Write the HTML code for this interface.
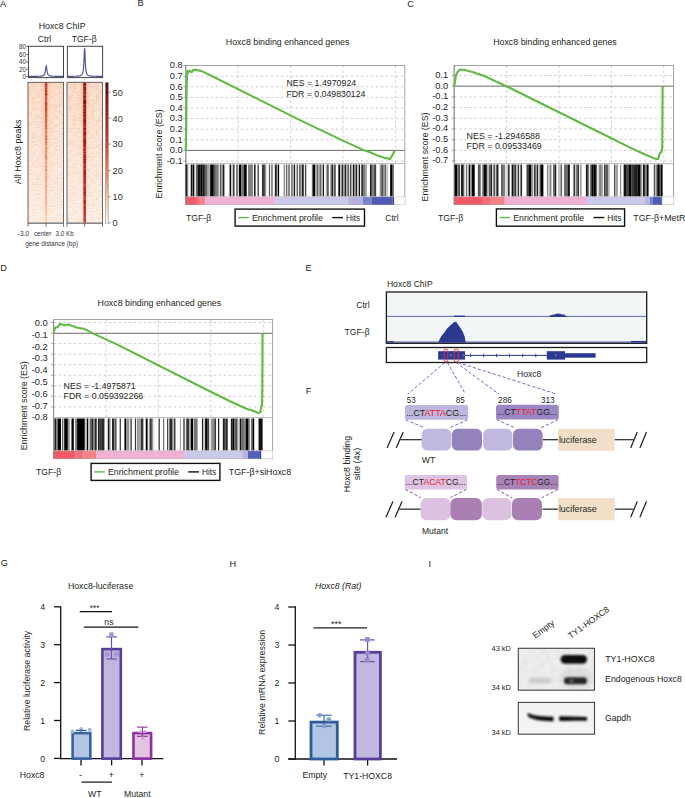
<!DOCTYPE html>
<html><head><meta charset="utf-8"><style>
html,body{margin:0;padding:0;background:#fff;}
body{width:685px;height:798px;overflow:hidden;}
svg{display:block;}
text{font-family:"Liberation Sans",sans-serif;}
</style></head><body>
<svg width="685" height="798" viewBox="0 0 685 798" font-family="Liberation Sans, sans-serif">
<rect width="685" height="798" fill="#fff"/>
<text x="0.00" y="6.80" font-size="9.2" text-anchor="start" fill="#231f20" >A</text>
<text x="137.40" y="6.30" font-size="9.2" text-anchor="start" fill="#231f20" >B</text>
<text x="407.30" y="6.60" font-size="9.2" text-anchor="start" fill="#231f20" >C</text>
<text x="0.30" y="270.50" font-size="9.2" text-anchor="start" fill="#231f20" >D</text>
<text x="305.60" y="270.90" font-size="9.2" text-anchor="start" fill="#231f20" >E</text>
<text x="305.80" y="393.90" font-size="9.2" text-anchor="start" fill="#231f20" >F</text>
<text x="0.80" y="566.10" font-size="9.2" text-anchor="start" fill="#231f20" >G</text>
<text x="229.60" y="566.50" font-size="9.2" text-anchor="start" fill="#231f20" >H</text>
<text x="428.60" y="566.50" font-size="9.2" text-anchor="start" fill="#231f20" >I</text>
<text x="38.70" y="28.80" font-size="8.7" text-anchor="start" fill="#231f20" textLength="47.00" lengthAdjust="spacingAndGlyphs" >Hoxc8 ChIP</text>
<text x="37.80" y="41.90" font-size="8.6" text-anchor="start" fill="#231f20" >Ctrl</text>
<text x="71.70" y="41.60" font-size="8.6" text-anchor="start" fill="#231f20" >TGF-β</text>
<rect x="28.50" y="46.30" width="35.00" height="31.30" fill="#fff" stroke="#444" stroke-width="1.0" />
<rect x="67.40" y="46.30" width="35.20" height="31.30" fill="#fff" stroke="#444" stroke-width="1.0" />
<text x="25.90" y="48.60" font-size="6.3" text-anchor="end" fill="#333" >80</text>
<line x1="26.30" y1="46.30" x2="28.50" y2="46.30" stroke="#444" stroke-width="0.8" />
<text x="25.90" y="56.70" font-size="6.3" text-anchor="end" fill="#333" >60</text>
<line x1="26.30" y1="54.40" x2="28.50" y2="54.40" stroke="#444" stroke-width="0.8" />
<text x="25.90" y="64.20" font-size="6.3" text-anchor="end" fill="#333" >40</text>
<line x1="26.30" y1="61.90" x2="28.50" y2="61.90" stroke="#444" stroke-width="0.8" />
<text x="25.90" y="71.60" font-size="6.3" text-anchor="end" fill="#333" >20</text>
<line x1="26.30" y1="69.30" x2="28.50" y2="69.30" stroke="#444" stroke-width="0.8" />
<text x="25.90" y="79.00" font-size="6.3" text-anchor="end" fill="#333" >0</text>
<line x1="26.30" y1="76.70" x2="28.50" y2="76.70" stroke="#444" stroke-width="0.8" />
<polyline points="29.00,76.37 29.28,76.37 29.57,76.37 29.85,76.37 30.13,76.37 30.42,76.37 30.70,76.37 30.98,76.37 31.27,76.37 31.55,76.36 31.83,76.36 32.12,76.36 32.40,76.36 32.68,76.36 32.97,76.36 33.25,76.35 33.53,76.35 33.82,76.35 34.10,76.35 34.38,76.35 34.67,76.34 34.95,76.34 35.23,76.34 35.52,76.33 35.80,76.33 36.08,76.33 36.37,76.32 36.65,76.32 36.93,76.31 37.22,76.31 37.50,76.30 37.78,76.29 38.07,76.29 38.35,76.28 38.63,76.27 38.92,76.26 39.20,76.25 39.48,76.23 39.77,76.22 40.05,76.20 40.33,76.18 40.62,76.16 40.90,76.14 41.18,76.11 41.47,76.07 41.75,76.03 42.03,75.98 42.32,75.92 42.60,75.85 42.88,75.75 43.17,75.64 43.45,75.48 43.73,75.29 44.02,75.02 44.30,74.65 44.58,74.13 44.87,73.37 45.15,72.24 45.43,70.61 45.72,68.47 46.00,66.45 46.28,66.00 46.57,67.55 46.85,69.77 47.13,71.64 47.42,72.96 47.70,73.85 47.98,74.46 48.27,74.88 48.55,75.19 48.83,75.41 49.12,75.58 49.40,75.71 49.68,75.81 49.97,75.89 50.25,75.96 50.53,76.01 50.82,76.06 51.10,76.09 51.38,76.13 51.67,76.15 51.95,76.18 52.23,76.20 52.52,76.21 52.80,76.23 53.08,76.24 53.37,76.25 53.65,76.27 53.93,76.27 54.22,76.28 54.50,76.29 54.78,76.30 55.07,76.30 55.35,76.31 55.63,76.32 55.92,76.32 56.20,76.32 56.48,76.33 56.77,76.33 57.05,76.34 57.33,76.34 57.62,76.34 57.90,76.34 58.18,76.35 58.47,76.35 58.75,76.35 59.03,76.35 59.32,76.36 59.60,76.36 59.88,76.36 60.17,76.36 60.45,76.36 60.73,76.36 61.02,76.37 61.30,76.37 61.58,76.37 61.87,76.37 62.15,76.37 62.43,76.37 62.72,76.37 63.00,76.37" fill="none" stroke="#4a5290" stroke-width="1.15"/>
<polyline points="68.10,76.35 68.38,76.35 68.67,76.35 68.95,76.34 69.23,76.34 69.52,76.34 69.80,76.34 70.08,76.33 70.37,76.33 70.65,76.33 70.93,76.33 71.22,76.32 71.50,76.32 71.78,76.32 72.07,76.31 72.35,76.31 72.63,76.30 72.92,76.30 73.20,76.29 73.48,76.29 73.77,76.28 74.05,76.28 74.33,76.27 74.62,76.26 74.90,76.25 75.18,76.24 75.47,76.23 75.75,76.22 76.03,76.21 76.32,76.20 76.60,76.18 76.88,76.17 77.17,76.15 77.45,76.13 77.73,76.11 78.02,76.08 78.30,76.05 78.58,76.02 78.87,75.98 79.15,75.94 79.43,75.89 79.72,75.83 80.00,75.75 80.28,75.67 80.57,75.57 80.85,75.44 81.13,75.28 81.42,75.09 81.70,74.83 81.98,74.50 82.27,74.05 82.55,73.42 82.83,72.53 83.12,71.21 83.40,69.16 83.68,65.90 83.97,60.73 84.25,53.60 84.53,48.16 84.82,50.39 85.10,57.53 85.38,63.75 85.67,67.82 85.95,70.36 86.23,71.98 86.52,73.05 86.80,73.78 87.08,74.30 87.37,74.69 87.65,74.97 87.93,75.20 88.22,75.37 88.50,75.51 88.78,75.62 89.07,75.72 89.35,75.79 89.63,75.86 89.92,75.91 90.20,75.96 90.48,76.00 90.77,76.04 91.05,76.07 91.33,76.10 91.62,76.12 91.90,76.14 92.18,76.16 92.47,76.18 92.75,76.19 93.03,76.20 93.32,76.22 93.60,76.23 93.88,76.24 94.17,76.25 94.45,76.26 94.73,76.26 95.02,76.27 95.30,76.28 95.58,76.28 95.87,76.29 96.15,76.30 96.43,76.30 96.72,76.31 97.00,76.31 97.28,76.31 97.57,76.32 97.85,76.32 98.13,76.32 98.42,76.33 98.70,76.33 98.98,76.33 99.27,76.34 99.55,76.34 99.83,76.34 100.12,76.34 100.40,76.34 100.68,76.35 100.97,76.35 101.25,76.35 101.53,76.35 101.82,76.35 102.10,76.35" fill="none" stroke="#4a5290" stroke-width="1.15"/>
<line x1="46.20" y1="78.40" x2="46.20" y2="79.60" stroke="#555" stroke-width="0.6" />
<line x1="84.80" y1="78.40" x2="84.80" y2="79.60" stroke="#555" stroke-width="0.6" />
<defs><linearGradient id="cbar" x1="0" y1="0" x2="0" y2="1"><stop offset="0" stop-color="#5e0a0a"/><stop offset="0.2" stop-color="#9c1c14"/><stop offset="0.45" stop-color="#d2452c"/><stop offset="0.65" stop-color="#eb8a5c"/><stop offset="0.82" stop-color="#f6c49a"/><stop offset="1" stop-color="#fff5ea"/></linearGradient><linearGradient id="hmC" x1="0" y1="0" x2="1" y2="0"><stop offset="0" stop-color="#fbe2cc" stop-opacity="0"/><stop offset="0.3" stop-color="#d8644a"/><stop offset="0.5" stop-color="#b8281e"/><stop offset="0.7" stop-color="#d8644a"/><stop offset="1" stop-color="#fbe2cc" stop-opacity="0"/></linearGradient><linearGradient id="hmT" x1="0" y1="0" x2="1" y2="0"><stop offset="0" stop-color="#f6c0a0" stop-opacity="0"/><stop offset="0.25" stop-color="#c0382a"/><stop offset="0.5" stop-color="#8a1410"/><stop offset="0.75" stop-color="#c0382a"/><stop offset="1" stop-color="#f6c0a0" stop-opacity="0"/></linearGradient><linearGradient id="fadeC" x1="0" y1="0" x2="0" y2="1"><stop offset="0" stop-color="#fff" stop-opacity="1"/><stop offset="0.5" stop-color="#fff" stop-opacity="0.75"/><stop offset="1" stop-color="#fff" stop-opacity="0.45"/></linearGradient></defs>
<defs><filter id="spk" x="0" y="0" width="100%" height="100%"><feTurbulence type="fractalNoise" baseFrequency="0.22 0.7" numOctaves="2" seed="4" result="t"/><feColorMatrix in="t" type="matrix" values="0 0 0 0 0.94  0 0 0 0 0.62  0 0 0 0 0.47  0 0 0 -4.6 2.6" result="c"/><feComposite in="c" in2="SourceGraphic" operator="in"/></filter></defs>
<defs><linearGradient id="hmbg" x1="0" y1="0" x2="0" y2="1"><stop offset="0" stop-color="#fbe0cc"/><stop offset="0.35" stop-color="#fce8da"/><stop offset="1" stop-color="#fdf1e8"/></linearGradient><linearGradient id="halo" x1="0" y1="0" x2="1" y2="0"><stop offset="0" stop-color="#f3b090" stop-opacity="0"/><stop offset="0.5" stop-color="#eea080" stop-opacity="0.9"/><stop offset="1" stop-color="#f3b090" stop-opacity="0"/></linearGradient><linearGradient id="halofade" x1="0" y1="0" x2="0" y2="1"><stop offset="0" stop-color="#fff" stop-opacity="1"/><stop offset="0.5" stop-color="#fff" stop-opacity="0.35"/><stop offset="1" stop-color="#fff" stop-opacity="0"/></linearGradient><linearGradient id="spkfade" x1="0" y1="0" x2="0" y2="1"><stop offset="0" stop-color="#fff" stop-opacity="0.95"/><stop offset="0.5" stop-color="#fff" stop-opacity="0.6"/><stop offset="1" stop-color="#fff" stop-opacity="0.35"/></linearGradient><mask id="spkm"><rect x="0" y="82" width="110" height="142" fill="url(#spkfade)"/></mask><mask id="hfm"><rect x="0" y="82" width="110" height="142" fill="url(#halofade)"/></mask></defs>
<rect x="28.00" y="82.30" width="35.50" height="141.00" fill="url(#hmbg)" stroke="none" stroke-width="1" />
<g mask="url(#spkm)"><rect x="28.0" y="82.3" width="35.50" height="141.00" fill="#fff" filter="url(#spk)"/></g>
<rect x="40.1" y="82.3" width="12" height="141.00" fill="url(#halo)" mask="url(#hfm)" opacity="0.5"/>
<rect x="44.90" y="82.30" width="2.40" height="1.30" fill="#b1271d"/>
<rect x="44.90" y="83.60" width="2.39" height="2.00" fill="#b93025"/>
<rect x="44.91" y="85.60" width="2.38" height="2.00" fill="#c2392e"/>
<rect x="44.92" y="87.60" width="2.37" height="2.00" fill="#c43a2e"/>
<rect x="44.92" y="89.60" width="2.36" height="1.30" fill="#bc3327"/>
<rect x="44.93" y="90.90" width="2.35" height="1.30" fill="#c73e31"/>
<rect x="44.93" y="92.20" width="2.34" height="1.00" fill="#bb3225"/>
<rect x="44.93" y="93.20" width="2.34" height="2.00" fill="#b32a1c"/>
<rect x="44.94" y="95.20" width="2.32" height="1.30" fill="#d04839"/>
<rect x="44.94" y="96.50" width="2.32" height="1.00" fill="#c23a2b"/>
<rect x="44.94" y="97.50" width="2.31" height="2.00" fill="#c94132"/>
<rect x="44.95" y="99.50" width="2.30" height="1.00" fill="#d64f3e"/>
<rect x="44.95" y="100.50" width="2.30" height="2.00" fill="#cf4837"/>
<rect x="44.95" y="102.50" width="2.29" height="1.60" fill="#bb3624"/>
<rect x="44.96" y="104.10" width="2.29" height="1.00" fill="#bf3b29"/>
<rect x="44.96" y="105.10" width="2.29" height="1.00" fill="#ca4835"/>
<rect x="44.96" y="106.10" width="2.28" height="1.60" fill="#c94734"/>
<rect x="44.96" y="107.70" width="2.28" height="1.30" fill="#c3432f"/>
<rect x="44.96" y="109.00" width="2.28" height="1.00" fill="#cd4e3a"/>
<rect x="44.96" y="110.00" width="2.27" height="1.30" fill="#c2432e"/>
<rect x="44.97" y="111.30" width="2.27" height="1.30" fill="#c74a34"/>
<rect x="44.97" y="112.60" width="2.27" height="1.00" fill="#c54933"/>
<rect x="44.97" y="113.60" width="2.26" height="2.00" fill="#d45942"/>
<rect x="44.97" y="115.60" width="2.26" height="2.00" fill="#ca5039"/>
<rect x="44.97" y="117.60" width="2.25" height="1.30" fill="#e16a51"/>
<rect x="44.97" y="118.90" width="2.25" height="2.00" fill="#cf5940"/>
<rect x="44.98" y="120.90" width="2.25" height="2.00" fill="#d76349"/>
<rect x="44.98" y="122.90" width="2.24" height="1.60" fill="#e8765b"/>
<rect x="44.98" y="124.50" width="2.24" height="2.00" fill="#d26145"/>
<rect x="44.98" y="126.50" width="2.23" height="1.00" fill="#d06144"/>
<rect x="44.99" y="127.50" width="2.23" height="2.00" fill="#cc5d41"/>
<rect x="44.99" y="129.50" width="2.22" height="1.00" fill="#df7254"/>
<rect x="44.99" y="130.50" width="2.22" height="1.30" fill="#e07456"/>
<rect x="44.99" y="131.80" width="2.22" height="1.60" fill="#e07657"/>
<rect x="44.99" y="133.40" width="2.21" height="1.00" fill="#d66d4d"/>
<rect x="44.99" y="134.40" width="2.21" height="1.30" fill="#e47d5d"/>
<rect x="45.00" y="135.70" width="2.21" height="1.60" fill="#dc7655"/>
<rect x="45.00" y="137.30" width="2.20" height="1.60" fill="#da7554"/>
<rect x="45.00" y="138.90" width="2.20" height="1.30" fill="#d67250"/>
<rect x="45.00" y="140.20" width="2.19" height="1.30" fill="#ed8a68"/>
<rect x="45.01" y="141.50" width="2.19" height="1.60" fill="#d97755"/>
<rect x="45.01" y="143.10" width="2.18" height="1.00" fill="#ea8967"/>
<rect x="45.01" y="144.10" width="2.17" height="1.30" fill="#e28260"/>
<rect x="45.02" y="145.40" width="2.17" height="1.30" fill="#f49573"/>
<rect x="45.02" y="146.70" width="2.16" height="1.00" fill="#f29372"/>
<rect x="45.02" y="147.70" width="2.16" height="2.00" fill="#e68867"/>
<rect x="45.03" y="149.70" width="2.15" height="1.30" fill="#f59876"/>
<rect x="45.03" y="151.00" width="2.14" height="1.30" fill="#dc805f"/>
<rect x="45.03" y="152.30" width="2.14" height="1.00" fill="#e58a69"/>
<rect x="45.03" y="153.30" width="2.13" height="2.00" fill="#f09675"/>
<rect x="45.04" y="155.30" width="2.12" height="2.00" fill="#da8160"/>
<rect x="45.04" y="157.30" width="2.11" height="1.60" fill="#da8362"/>
<rect x="45.05" y="158.90" width="2.10" height="1.60" fill="#ee9877"/>
<rect x="45.05" y="160.50" width="2.10" height="1.00" fill="#e79271"/>
<rect x="45.05" y="161.50" width="2.09" height="1.30" fill="#e79271"/>
<rect x="45.06" y="162.80" width="2.09" height="1.60" fill="#ef9b7a"/>
<rect x="45.06" y="164.40" width="2.08" height="1.30" fill="#faa786"/>
<rect x="45.06" y="165.70" width="2.07" height="2.00" fill="#dd8b6a"/>
<rect x="45.07" y="167.70" width="2.06" height="1.30" fill="#faaa89"/>
<rect x="45.07" y="169.00" width="2.06" height="2.00" fill="#dd8d6c"/>
<rect x="45.08" y="171.00" width="2.05" height="1.30" fill="#f9ab8a"/>
<rect x="45.08" y="172.30" width="2.04" height="1.60" fill="#f6a988"/>
<rect x="45.08" y="173.90" width="2.03" height="1.60" fill="#f1a484"/>
<rect x="45.09" y="175.50" width="2.03" height="2.00" fill="#eda282"/>
<rect x="45.09" y="177.50" width="2.02" height="2.00" fill="#e89e7e"/>
<rect x="45.10" y="179.50" width="2.01" height="1.60" fill="#e49b7a"/>
<rect x="45.10" y="181.10" width="2.00" height="1.00" fill="#eca484"/>
<rect x="45.10" y="182.10" width="2.00" height="1.30" fill="#feb797"/>
<rect x="45.10" y="183.40" width="1.99" height="1.00" fill="#e8a282"/>
<rect x="45.10" y="184.40" width="1.99" height="1.60" fill="#f5ae8f"/>
<rect x="45.11" y="186.00" width="1.99" height="2.00" fill="#e8a384"/>
<rect x="45.11" y="188.00" width="1.98" height="2.00" fill="#f9b496"/>
<rect x="45.11" y="190.00" width="1.98" height="1.30" fill="#e5a283"/>
<rect x="45.11" y="191.30" width="1.98" height="1.00" fill="#eeab8d"/>
<rect x="45.11" y="192.30" width="1.97" height="1.30" fill="#e2a082"/>
<rect x="45.11" y="193.60" width="1.97" height="2.00" fill="#fab99b"/>
<rect x="45.12" y="195.60" width="1.97" height="1.00" fill="#fdbda0"/>
<rect x="45.12" y="196.60" width="1.96" height="1.60" fill="#e6a689"/>
<rect x="45.12" y="198.20" width="1.96" height="1.60" fill="#efb093"/>
<rect x="45.12" y="199.80" width="1.96" height="1.30" fill="#f6b89b"/>
<rect x="45.12" y="201.10" width="1.95" height="1.30" fill="#e8ab8e"/>
<rect x="45.13" y="202.40" width="1.95" height="2.00" fill="#e9ac90"/>
<rect x="45.13" y="204.40" width="1.94" height="1.00" fill="#f6ba9f"/>
<rect x="45.13" y="205.40" width="1.94" height="1.00" fill="#fcc1a6"/>
<rect x="45.13" y="206.40" width="1.94" height="1.00" fill="#f0b59a"/>
<rect x="45.13" y="207.40" width="1.94" height="1.00" fill="#f0b69b"/>
<rect x="45.13" y="208.40" width="1.94" height="1.30" fill="#ffc5aa"/>
<rect x="45.13" y="209.70" width="1.93" height="1.30" fill="#ecb398"/>
<rect x="45.14" y="211.00" width="1.93" height="1.60" fill="#fcc3a9"/>
<rect x="45.14" y="212.60" width="1.93" height="1.30" fill="#f0b99f"/>
<rect x="45.14" y="213.90" width="1.92" height="1.60" fill="#fbc5ab"/>
<rect x="45.14" y="215.50" width="1.92" height="1.60" fill="#ffc9af"/>
<rect x="45.14" y="217.10" width="1.91" height="2.00" fill="#ffceb5"/>
<rect x="45.15" y="219.10" width="1.91" height="1.00" fill="#f6c2a9"/>
<rect x="45.15" y="220.10" width="1.91" height="1.00" fill="#f5c2a9"/>
<rect x="45.15" y="221.10" width="1.91" height="1.60" fill="#ffd1b9"/>
<rect x="45.15" y="222.70" width="1.90" height="0.60" fill="#efbca4"/>
<rect x="28.00" y="82.30" width="35.50" height="141.00" fill="none" stroke="#555" stroke-width="0.9" />
<line x1="28.00" y1="223.30" x2="63.50" y2="223.30" stroke="#888" stroke-width="1.4" />
<line x1="28.00" y1="223.30" x2="28.00" y2="226.80" stroke="#555" stroke-width="0.8" />
<line x1="46.10" y1="223.30" x2="46.10" y2="226.80" stroke="#555" stroke-width="0.8" />
<line x1="63.50" y1="223.30" x2="63.50" y2="226.80" stroke="#555" stroke-width="0.8" />
<rect x="67.00" y="82.30" width="35.50" height="141.00" fill="url(#hmbg)" stroke="none" stroke-width="1" />
<g mask="url(#spkm)"><rect x="67.0" y="82.3" width="35.50" height="141.00" fill="#fff" filter="url(#spk)"/></g>
<rect x="78.7" y="82.3" width="12" height="141.00" fill="url(#halo)" mask="url(#hfm)" opacity="0.6"/>
<rect x="83.10" y="82.30" width="3.20" height="1.30" fill="#de6a50"/>
<rect x="83.40" y="82.30" width="2.60" height="1.30" fill="#800606"/>
<rect x="83.10" y="83.60" width="3.20" height="2.00" fill="#de6a50"/>
<rect x="83.40" y="83.60" width="2.60" height="2.00" fill="#7f0505"/>
<rect x="83.10" y="85.60" width="3.19" height="1.00" fill="#de6a50"/>
<rect x="83.40" y="85.60" width="2.59" height="1.00" fill="#8f1514"/>
<rect x="83.11" y="86.60" width="3.19" height="1.60" fill="#de6a50"/>
<rect x="83.41" y="86.60" width="2.59" height="1.60" fill="#911616"/>
<rect x="83.11" y="88.20" width="3.18" height="1.00" fill="#de6a50"/>
<rect x="83.41" y="88.20" width="2.58" height="1.00" fill="#810706"/>
<rect x="83.11" y="89.20" width="3.18" height="1.00" fill="#de6a50"/>
<rect x="83.41" y="89.20" width="2.58" height="1.00" fill="#840909"/>
<rect x="83.11" y="90.20" width="3.18" height="1.30" fill="#de6a50"/>
<rect x="83.41" y="90.20" width="2.58" height="1.30" fill="#951a1a"/>
<rect x="83.11" y="91.50" width="3.17" height="2.00" fill="#de6a50"/>
<rect x="83.41" y="91.50" width="2.57" height="2.00" fill="#8f1414"/>
<rect x="83.12" y="93.50" width="3.17" height="1.00" fill="#de6a50"/>
<rect x="83.42" y="93.50" width="2.57" height="1.00" fill="#8c1111"/>
<rect x="83.12" y="94.50" width="3.17" height="1.00" fill="#de6a50"/>
<rect x="83.42" y="94.50" width="2.57" height="1.00" fill="#8d1111"/>
<rect x="83.12" y="95.50" width="3.16" height="1.60" fill="#de6a50"/>
<rect x="83.42" y="95.50" width="2.56" height="1.60" fill="#880d0c"/>
<rect x="83.12" y="97.10" width="3.16" height="1.30" fill="#de6a50"/>
<rect x="83.42" y="97.10" width="2.56" height="1.30" fill="#951919"/>
<rect x="83.12" y="98.40" width="3.15" height="1.00" fill="#de6a50"/>
<rect x="83.42" y="98.40" width="2.55" height="1.00" fill="#911514"/>
<rect x="83.12" y="99.40" width="3.15" height="1.60" fill="#de6a50"/>
<rect x="83.42" y="99.40" width="2.55" height="1.60" fill="#850908"/>
<rect x="83.13" y="101.00" width="3.15" height="2.00" fill="#de6a50"/>
<rect x="83.43" y="101.00" width="2.55" height="2.00" fill="#860a0a"/>
<rect x="83.13" y="103.00" width="3.14" height="1.30" fill="#de6a50"/>
<rect x="83.43" y="103.00" width="2.54" height="1.30" fill="#860a09"/>
<rect x="83.13" y="104.30" width="3.14" height="1.60" fill="#de6a50"/>
<rect x="83.43" y="104.30" width="2.54" height="1.60" fill="#911514"/>
<rect x="83.13" y="105.90" width="3.13" height="1.30" fill="#de6a50"/>
<rect x="83.43" y="105.90" width="2.53" height="1.30" fill="#8b0e0e"/>
<rect x="83.14" y="107.20" width="3.13" height="1.60" fill="#de6a50"/>
<rect x="83.44" y="107.20" width="2.53" height="1.60" fill="#8e1111"/>
<rect x="83.14" y="108.80" width="3.12" height="1.00" fill="#de6a50"/>
<rect x="83.44" y="108.80" width="2.52" height="1.00" fill="#8b0e0d"/>
<rect x="83.14" y="109.80" width="3.12" height="1.60" fill="#de6a50"/>
<rect x="83.44" y="109.80" width="2.52" height="1.60" fill="#8e1110"/>
<rect x="83.14" y="111.40" width="3.12" height="2.00" fill="#de6a50"/>
<rect x="83.44" y="111.40" width="2.52" height="2.00" fill="#8b0e0d"/>
<rect x="83.14" y="113.40" width="3.11" height="1.30" fill="#de6a50"/>
<rect x="83.44" y="113.40" width="2.51" height="1.30" fill="#890c0b"/>
<rect x="83.15" y="114.70" width="3.11" height="1.60" fill="#de6a50"/>
<rect x="83.45" y="114.70" width="2.51" height="1.60" fill="#8c0e0d"/>
<rect x="83.15" y="116.30" width="3.10" height="1.00" fill="#de6a50"/>
<rect x="83.45" y="116.30" width="2.50" height="1.00" fill="#8a0c0b"/>
<rect x="83.15" y="117.30" width="3.10" height="2.00" fill="#de6a50"/>
<rect x="83.45" y="117.30" width="2.50" height="2.00" fill="#971918"/>
<rect x="83.15" y="119.30" width="3.10" height="2.00" fill="#de6a50"/>
<rect x="83.45" y="119.30" width="2.50" height="2.00" fill="#840605"/>
<rect x="83.16" y="121.30" width="3.09" height="2.00" fill="#de6a50"/>
<rect x="83.46" y="121.30" width="2.49" height="2.00" fill="#8c0e0d"/>
<rect x="83.16" y="123.30" width="3.08" height="2.00" fill="#de6a50"/>
<rect x="83.46" y="123.30" width="2.48" height="2.00" fill="#991a19"/>
<rect x="83.16" y="125.30" width="3.08" height="1.00" fill="#de6a50"/>
<rect x="83.46" y="125.30" width="2.48" height="1.00" fill="#9d1e1d"/>
<rect x="83.16" y="126.30" width="3.08" height="1.30" fill="#de6a50"/>
<rect x="83.46" y="126.30" width="2.48" height="1.30" fill="#921312"/>
<rect x="83.16" y="127.60" width="3.07" height="2.00" fill="#de6a50"/>
<rect x="83.46" y="127.60" width="2.47" height="2.00" fill="#840504"/>
<rect x="83.17" y="129.60" width="3.07" height="2.00" fill="#de6a50"/>
<rect x="83.47" y="129.60" width="2.47" height="2.00" fill="#9d1e1d"/>
<rect x="83.17" y="131.60" width="3.06" height="1.30" fill="#de6a50"/>
<rect x="83.47" y="131.60" width="2.46" height="1.30" fill="#860605"/>
<rect x="83.17" y="132.90" width="3.06" height="2.00" fill="#de6a50"/>
<rect x="83.47" y="132.90" width="2.46" height="2.00" fill="#8f0f0e"/>
<rect x="83.17" y="134.90" width="3.05" height="1.60" fill="#de6a50"/>
<rect x="83.47" y="134.90" width="2.45" height="1.60" fill="#9f1f1d"/>
<rect x="83.18" y="136.50" width="3.05" height="1.30" fill="#de6a50"/>
<rect x="83.48" y="136.50" width="2.45" height="1.30" fill="#921211"/>
<rect x="83.18" y="137.80" width="3.04" height="1.00" fill="#de6a50"/>
<rect x="83.48" y="137.80" width="2.44" height="1.00" fill="#951513"/>
<rect x="83.18" y="138.80" width="3.04" height="1.30" fill="#de6a50"/>
<rect x="83.48" y="138.80" width="2.44" height="1.30" fill="#991817"/>
<rect x="83.18" y="140.10" width="3.04" height="1.00" fill="#de6a50"/>
<rect x="83.48" y="140.10" width="2.44" height="1.00" fill="#880806"/>
<rect x="83.18" y="141.10" width="3.03" height="2.00" fill="#de6a50"/>
<rect x="83.48" y="141.10" width="2.43" height="2.00" fill="#8a0a08"/>
<rect x="83.19" y="143.10" width="3.03" height="1.30" fill="#de6a50"/>
<rect x="83.49" y="143.10" width="2.43" height="1.30" fill="#a1201e"/>
<rect x="83.19" y="144.40" width="3.02" height="2.00" fill="#de6a50"/>
<rect x="83.49" y="144.40" width="2.42" height="2.00" fill="#890806"/>
<rect x="83.19" y="146.40" width="3.02" height="1.00" fill="#de6a50"/>
<rect x="83.49" y="146.40" width="2.42" height="1.00" fill="#961513"/>
<rect x="83.19" y="147.40" width="3.02" height="1.30" fill="#de6a50"/>
<rect x="83.49" y="147.40" width="2.42" height="1.30" fill="#991715"/>
<rect x="83.19" y="148.70" width="3.01" height="2.00" fill="#de6a50"/>
<rect x="83.49" y="148.70" width="2.41" height="2.00" fill="#961412"/>
<rect x="83.20" y="150.70" width="3.01" height="1.00" fill="#de6a50"/>
<rect x="83.50" y="150.70" width="2.41" height="1.00" fill="#9b1917"/>
<rect x="83.20" y="151.70" width="3.00" height="1.60" fill="#de6a50"/>
<rect x="83.50" y="151.70" width="2.40" height="1.60" fill="#a42220"/>
<rect x="83.20" y="153.30" width="3.00" height="1.00" fill="#de6a50"/>
<rect x="83.50" y="153.30" width="2.40" height="1.00" fill="#a11f1d"/>
<rect x="83.21" y="154.30" width="2.99" height="1.60" fill="#de6a50"/>
<rect x="83.51" y="154.30" width="2.39" height="1.60" fill="#a52220"/>
<rect x="83.21" y="155.90" width="2.98" height="1.00" fill="#de6a50"/>
<rect x="83.51" y="155.90" width="2.38" height="1.00" fill="#900d0b"/>
<rect x="83.21" y="156.90" width="2.97" height="1.60" fill="#de6a50"/>
<rect x="83.51" y="156.90" width="2.37" height="1.60" fill="#9d1a18"/>
<rect x="83.22" y="158.50" width="2.96" height="1.60" fill="#de6a50"/>
<rect x="83.52" y="158.50" width="2.36" height="1.60" fill="#8f0c09"/>
<rect x="83.23" y="160.10" width="2.95" height="2.00" fill="#de6a50"/>
<rect x="83.53" y="160.10" width="2.35" height="2.00" fill="#a11d1a"/>
<rect x="83.23" y="162.10" width="2.93" height="1.30" fill="#de6a50"/>
<rect x="83.53" y="162.10" width="2.33" height="1.30" fill="#8f0b08"/>
<rect x="83.24" y="163.40" width="2.92" height="1.30" fill="#de6a50"/>
<rect x="83.54" y="163.40" width="2.32" height="1.30" fill="#981411"/>
<rect x="83.24" y="164.70" width="2.92" height="1.00" fill="#de6a50"/>
<rect x="83.54" y="164.70" width="2.32" height="1.00" fill="#ab2623"/>
<rect x="83.25" y="165.70" width="2.91" height="1.60" fill="#de6a50"/>
<rect x="83.55" y="165.70" width="2.31" height="1.60" fill="#9d1815"/>
<rect x="83.25" y="167.30" width="2.90" height="1.00" fill="#de6a50"/>
<rect x="83.55" y="167.30" width="2.30" height="1.00" fill="#96100c"/>
<rect x="83.25" y="168.30" width="2.89" height="1.60" fill="#de6a50"/>
<rect x="83.55" y="168.30" width="2.29" height="1.60" fill="#a6201c"/>
<rect x="83.26" y="169.90" width="2.88" height="2.00" fill="#de6a50"/>
<rect x="83.56" y="169.90" width="2.28" height="2.00" fill="#a31d19"/>
<rect x="83.27" y="171.90" width="2.86" height="2.00" fill="#de6a50"/>
<rect x="83.57" y="171.90" width="2.26" height="2.00" fill="#9c1511"/>
<rect x="83.27" y="173.90" width="2.85" height="1.30" fill="#de6a50"/>
<rect x="83.57" y="173.90" width="2.25" height="1.30" fill="#950d09"/>
<rect x="83.28" y="175.20" width="2.84" height="2.00" fill="#de6a50"/>
<rect x="83.58" y="175.20" width="2.24" height="2.00" fill="#ac2420"/>
<rect x="83.29" y="177.20" width="2.83" height="1.00" fill="#de6a50"/>
<rect x="83.59" y="177.20" width="2.23" height="1.00" fill="#9b130e"/>
<rect x="83.29" y="178.20" width="2.82" height="2.00" fill="#de6a50"/>
<rect x="83.59" y="178.20" width="2.22" height="2.00" fill="#a81f1a"/>
<rect x="83.30" y="180.20" width="2.81" height="1.00" fill="#de6a50"/>
<rect x="83.60" y="180.20" width="2.21" height="1.00" fill="#ac231e"/>
<rect x="83.30" y="181.20" width="2.80" height="2.00" fill="#de6a50"/>
<rect x="83.60" y="181.20" width="2.20" height="2.00" fill="#a41b16"/>
<rect x="83.31" y="183.20" width="2.78" height="1.30" fill="#de6a50"/>
<rect x="83.61" y="183.20" width="2.18" height="1.30" fill="#b12722"/>
<rect x="83.31" y="184.50" width="2.78" height="1.00" fill="#de6a50"/>
<rect x="83.61" y="184.50" width="2.18" height="1.00" fill="#a01611"/>
<rect x="83.32" y="185.50" width="2.77" height="1.00" fill="#de6a50"/>
<rect x="83.62" y="185.50" width="2.17" height="1.00" fill="#b32923"/>
<rect x="83.32" y="186.50" width="2.76" height="1.30" fill="#de6a50"/>
<rect x="83.62" y="186.50" width="2.16" height="1.30" fill="#9f140e"/>
<rect x="83.32" y="187.80" width="2.75" height="1.60" fill="#de6a50"/>
<rect x="83.62" y="187.80" width="2.15" height="1.60" fill="#9c110b"/>
<rect x="83.33" y="189.40" width="2.74" height="2.00" fill="#de6a50"/>
<rect x="83.63" y="189.40" width="2.14" height="2.00" fill="#a0140e"/>
<rect x="83.34" y="191.40" width="2.73" height="1.60" fill="#de6a50"/>
<rect x="83.64" y="191.40" width="2.13" height="1.60" fill="#9d110b"/>
<rect x="83.34" y="193.00" width="2.71" height="2.00" fill="#de6a50"/>
<rect x="83.64" y="193.00" width="2.11" height="2.00" fill="#b0241e"/>
<rect x="83.35" y="195.00" width="2.70" height="1.60" fill="#de6a50"/>
<rect x="83.65" y="195.00" width="2.10" height="1.60" fill="#b32720"/>
<rect x="83.36" y="196.60" width="2.69" height="1.00" fill="#de6a50"/>
<rect x="83.66" y="196.60" width="2.09" height="1.00" fill="#a51710"/>
<rect x="83.36" y="197.60" width="2.68" height="2.00" fill="#de6a50"/>
<rect x="83.66" y="197.60" width="2.08" height="2.00" fill="#b72922"/>
<rect x="83.37" y="199.60" width="2.67" height="1.30" fill="#de6a50"/>
<rect x="83.67" y="199.60" width="2.07" height="1.30" fill="#ac1f17"/>
<rect x="83.37" y="200.90" width="2.66" height="2.00" fill="#de6a50"/>
<rect x="83.67" y="200.90" width="2.06" height="2.00" fill="#a5160f"/>
<rect x="83.38" y="202.90" width="2.64" height="1.60" fill="#de6a50"/>
<rect x="83.68" y="202.90" width="2.04" height="1.60" fill="#a91a12"/>
<rect x="83.38" y="204.50" width="2.63" height="1.00" fill="#de6a50"/>
<rect x="83.68" y="204.50" width="2.03" height="1.00" fill="#b6271f"/>
<rect x="83.39" y="205.50" width="2.63" height="1.00" fill="#de6a50"/>
<rect x="83.69" y="205.50" width="2.03" height="1.00" fill="#a81810"/>
<rect x="83.39" y="206.50" width="2.62" height="1.60" fill="#de6a50"/>
<rect x="83.69" y="206.50" width="2.02" height="1.60" fill="#ab1b13"/>
<rect x="83.40" y="208.10" width="2.61" height="1.60" fill="#de6a50"/>
<rect x="83.70" y="208.10" width="2.01" height="1.60" fill="#a91911"/>
<rect x="83.40" y="209.70" width="2.60" height="1.60" fill="#de6a50"/>
<rect x="83.70" y="209.70" width="2.00" height="1.60" fill="#b4231b"/>
<rect x="83.41" y="211.30" width="2.59" height="1.60" fill="#de6a50"/>
<rect x="83.71" y="211.30" width="1.99" height="1.60" fill="#bd2c24"/>
<rect x="83.41" y="212.90" width="2.57" height="2.00" fill="#de6a50"/>
<rect x="83.71" y="212.90" width="1.97" height="2.00" fill="#ba2920"/>
<rect x="83.42" y="214.90" width="2.56" height="1.30" fill="#de6a50"/>
<rect x="83.72" y="214.90" width="1.96" height="1.30" fill="#c33128"/>
<rect x="83.42" y="216.20" width="2.55" height="1.30" fill="#de6a50"/>
<rect x="83.72" y="216.20" width="1.95" height="1.30" fill="#b6241b"/>
<rect x="83.43" y="217.50" width="2.54" height="1.60" fill="#de6a50"/>
<rect x="83.73" y="217.50" width="1.94" height="1.60" fill="#c12f25"/>
<rect x="83.44" y="219.10" width="2.53" height="1.00" fill="#de6a50"/>
<rect x="83.74" y="219.10" width="1.93" height="1.00" fill="#b42118"/>
<rect x="83.44" y="220.10" width="2.52" height="1.30" fill="#de6a50"/>
<rect x="83.74" y="220.10" width="1.92" height="1.30" fill="#be2b21"/>
<rect x="83.44" y="221.40" width="2.51" height="1.00" fill="#de6a50"/>
<rect x="83.74" y="221.40" width="1.91" height="1.00" fill="#ac180f"/>
<rect x="83.45" y="222.40" width="2.51" height="0.90" fill="#de6a50"/>
<rect x="83.75" y="222.40" width="1.91" height="0.90" fill="#b52117"/>
<rect x="67.00" y="82.30" width="35.50" height="141.00" fill="none" stroke="#555" stroke-width="0.9" />
<line x1="67.00" y1="223.30" x2="102.50" y2="223.30" stroke="#888" stroke-width="1.4" />
<line x1="67.00" y1="223.30" x2="67.00" y2="226.80" stroke="#555" stroke-width="0.8" />
<line x1="84.70" y1="223.30" x2="84.70" y2="226.80" stroke="#555" stroke-width="0.8" />
<line x1="102.50" y1="223.30" x2="102.50" y2="226.80" stroke="#555" stroke-width="0.8" />
<rect x="105.40" y="82.40" width="2.90" height="141.20" fill="url(#cbar)" stroke="#888" stroke-width="0.5" />
<line x1="108.30" y1="92.20" x2="110.60" y2="92.20" stroke="#555" stroke-width="0.7" />
<text x="112.60" y="95.50" font-size="9.2" text-anchor="start" fill="#333" >50</text>
<line x1="108.30" y1="118.20" x2="110.60" y2="118.20" stroke="#555" stroke-width="0.7" />
<text x="112.60" y="121.50" font-size="9.2" text-anchor="start" fill="#333" >40</text>
<line x1="108.30" y1="144.10" x2="110.60" y2="144.10" stroke="#555" stroke-width="0.7" />
<text x="112.60" y="147.40" font-size="9.2" text-anchor="start" fill="#333" >30</text>
<line x1="108.30" y1="170.60" x2="110.60" y2="170.60" stroke="#555" stroke-width="0.7" />
<text x="112.60" y="173.90" font-size="9.2" text-anchor="start" fill="#333" >20</text>
<line x1="108.30" y1="196.80" x2="110.60" y2="196.80" stroke="#555" stroke-width="0.7" />
<text x="112.60" y="200.10" font-size="9.2" text-anchor="start" fill="#333" >10</text>
<line x1="108.30" y1="222.80" x2="110.60" y2="222.80" stroke="#555" stroke-width="0.7" />
<text x="112.60" y="226.10" font-size="9.2" text-anchor="start" fill="#333" >0</text>
<text x="21.00" y="151.85" font-size="8.9" text-anchor="middle" fill="#231f20" textLength="64.70" lengthAdjust="spacingAndGlyphs" transform="rotate(-90 21.0 151.85)">All Hoxc8 peaks</text>
<text x="17.80" y="235.70" font-size="6.7" text-anchor="start" fill="#333" textLength="11.20" lengthAdjust="spacingAndGlyphs" >-3.0</text>
<text x="34.00" y="235.70" font-size="6.7" text-anchor="start" fill="#333" textLength="17.30" lengthAdjust="spacingAndGlyphs" >center</text>
<text x="55.60" y="235.70" font-size="6.7" text-anchor="start" fill="#333" textLength="18.20" lengthAdjust="spacingAndGlyphs" >3.0 Kb</text>
<text x="25.20" y="245.70" font-size="6.7" text-anchor="start" fill="#333" textLength="52.90" lengthAdjust="spacingAndGlyphs" >gene distance (bp)</text>
<line x1="185.80" y1="65.60" x2="404.80" y2="65.60" stroke="#cbcbcb" stroke-width="0.9" stroke-dasharray="2.6 2.4"/>
<line x1="185.80" y1="76.20" x2="404.80" y2="76.20" stroke="#cbcbcb" stroke-width="0.9" stroke-dasharray="2.6 2.4"/>
<line x1="185.80" y1="86.80" x2="404.80" y2="86.80" stroke="#cbcbcb" stroke-width="0.9" stroke-dasharray="2.6 2.4"/>
<line x1="185.80" y1="97.40" x2="404.80" y2="97.40" stroke="#cbcbcb" stroke-width="0.9" stroke-dasharray="2.6 2.4"/>
<line x1="185.80" y1="108.00" x2="404.80" y2="108.00" stroke="#cbcbcb" stroke-width="0.9" stroke-dasharray="2.6 2.4"/>
<line x1="185.80" y1="118.60" x2="404.80" y2="118.60" stroke="#cbcbcb" stroke-width="0.9" stroke-dasharray="2.6 2.4"/>
<line x1="185.80" y1="129.20" x2="404.80" y2="129.20" stroke="#cbcbcb" stroke-width="0.9" stroke-dasharray="2.6 2.4"/>
<line x1="185.80" y1="139.80" x2="404.80" y2="139.80" stroke="#cbcbcb" stroke-width="0.9" stroke-dasharray="2.6 2.4"/>
<line x1="185.80" y1="161.00" x2="404.80" y2="161.00" stroke="#cbcbcb" stroke-width="0.9" stroke-dasharray="2.6 2.4"/>
<line x1="238.20" y1="65.50" x2="238.20" y2="163.60" stroke="#cbcbcb" stroke-width="0.9" stroke-dasharray="2.6 2.4"/>
<line x1="290.60" y1="65.50" x2="290.60" y2="163.60" stroke="#cbcbcb" stroke-width="0.9" stroke-dasharray="2.6 2.4"/>
<line x1="343.00" y1="65.50" x2="343.00" y2="163.60" stroke="#cbcbcb" stroke-width="0.9" stroke-dasharray="2.6 2.4"/>
<line x1="395.40" y1="65.50" x2="395.40" y2="163.60" stroke="#cbcbcb" stroke-width="0.9" stroke-dasharray="2.6 2.4"/>
<line x1="185.80" y1="150.40" x2="404.80" y2="150.40" stroke="#6a6a6a" stroke-width="1.0" />
<rect x="185.80" y="65.50" width="219.00" height="139.10" fill="none" stroke="#9a9a9a" stroke-width="0.9" />
<line x1="185.80" y1="163.60" x2="404.80" y2="163.60" stroke="#b0b0b0" stroke-width="0.9" />
<text x="182.80" y="68.40" font-size="9.3" text-anchor="end" fill="#231f20" >0.8</text>
<text x="182.80" y="79.00" font-size="9.3" text-anchor="end" fill="#231f20" >0.7</text>
<text x="182.80" y="89.60" font-size="9.3" text-anchor="end" fill="#231f20" >0.6</text>
<text x="182.80" y="100.20" font-size="9.3" text-anchor="end" fill="#231f20" >0.5</text>
<text x="182.80" y="110.80" font-size="9.3" text-anchor="end" fill="#231f20" >0.4</text>
<text x="182.80" y="121.40" font-size="9.3" text-anchor="end" fill="#231f20" >0.3</text>
<text x="182.80" y="132.00" font-size="9.3" text-anchor="end" fill="#231f20" >0.2</text>
<text x="182.80" y="142.60" font-size="9.3" text-anchor="end" fill="#231f20" >0.1</text>
<text x="182.80" y="153.20" font-size="9.3" text-anchor="end" fill="#231f20" >0.0</text>
<text x="182.80" y="163.80" font-size="9.3" text-anchor="end" fill="#231f20" >-0.1</text>
<line x1="183.40" y1="65.60" x2="185.80" y2="65.60" stroke="#888" stroke-width="0.8" />
<line x1="183.40" y1="76.20" x2="185.80" y2="76.20" stroke="#888" stroke-width="0.8" />
<line x1="183.40" y1="86.80" x2="185.80" y2="86.80" stroke="#888" stroke-width="0.8" />
<line x1="183.40" y1="97.40" x2="185.80" y2="97.40" stroke="#888" stroke-width="0.8" />
<line x1="183.40" y1="108.00" x2="185.80" y2="108.00" stroke="#888" stroke-width="0.8" />
<line x1="183.40" y1="118.60" x2="185.80" y2="118.60" stroke="#888" stroke-width="0.8" />
<line x1="183.40" y1="129.20" x2="185.80" y2="129.20" stroke="#888" stroke-width="0.8" />
<line x1="183.40" y1="139.80" x2="185.80" y2="139.80" stroke="#888" stroke-width="0.8" />
<line x1="183.40" y1="161.00" x2="185.80" y2="161.00" stroke="#888" stroke-width="0.8" />
<line x1="183.40" y1="150.40" x2="185.80" y2="150.40" stroke="#888" stroke-width="0.8" />
<rect x="184.99" y="164.50" width="0.79" height="32.20" fill="#121212"/>
<rect x="185.74" y="164.50" width="1.79" height="32.20" fill="#000000"/>
<rect x="187.47" y="164.50" width="0.79" height="32.20" fill="#8c8c8c"/>
<rect x="190.70" y="164.50" width="1.29" height="32.20" fill="#121212"/>
<rect x="191.94" y="164.50" width="0.79" height="32.20" fill="#7b7b7b"/>
<rect x="192.68" y="164.50" width="1.29" height="32.20" fill="#000000"/>
<rect x="193.93" y="164.50" width="0.79" height="32.20" fill="#666666"/>
<rect x="194.67" y="164.50" width="1.54" height="32.20" fill="#e2e2e2"/>
<rect x="196.16" y="164.50" width="1.54" height="32.20" fill="#4f4f4f"/>
<rect x="197.65" y="164.50" width="2.78" height="32.20" fill="#121212"/>
<rect x="200.38" y="164.50" width="2.28" height="32.20" fill="#000000"/>
<rect x="202.61" y="164.50" width="2.28" height="32.20" fill="#1c1c1c"/>
<rect x="204.84" y="164.50" width="2.53" height="32.20" fill="#666666"/>
<rect x="207.33" y="164.50" width="1.54" height="32.20" fill="#8f8f8f"/>
<rect x="208.81" y="164.50" width="1.04" height="32.20" fill="#cecece"/>
<rect x="209.81" y="164.50" width="1.04" height="32.20" fill="#131313"/>
<rect x="210.80" y="164.50" width="3.03" height="32.20" fill="#000000"/>
<rect x="213.78" y="164.50" width="2.04" height="32.20" fill="#515151"/>
<rect x="215.76" y="164.50" width="2.28" height="32.20" fill="#7b7b7b"/>
<rect x="218.00" y="164.50" width="0.77" height="32.20" fill="#676767"/>
<rect x="218.72" y="164.50" width="1.25" height="32.20" fill="#ededed"/>
<rect x="219.93" y="164.50" width="0.85" height="32.20" fill="#060606"/>
<rect x="220.73" y="164.50" width="2.06" height="32.20" fill="#a4a4a4"/>
<rect x="222.74" y="164.50" width="1.66" height="32.20" fill="#1e1e1e"/>
<rect x="229.16" y="164.50" width="0.85" height="32.20" fill="#8c8c8c"/>
<rect x="229.96" y="164.50" width="1.25" height="32.20" fill="#121212"/>
<rect x="231.17" y="164.50" width="2.06" height="32.20" fill="#c9c9c9"/>
<rect x="233.18" y="164.50" width="1.25" height="32.20" fill="#121212"/>
<rect x="236.39" y="164.50" width="1.25" height="32.20" fill="#363636"/>
<rect x="238.80" y="164.50" width="1.25" height="32.20" fill="#060606"/>
<rect x="240.00" y="164.50" width="1.25" height="32.20" fill="#000000"/>
<rect x="241.20" y="164.50" width="2.86" height="32.20" fill="#737373"/>
<rect x="244.01" y="164.50" width="2.86" height="32.20" fill="#060606"/>
<rect x="246.82" y="164.50" width="1.25" height="32.20" fill="#fafafa"/>
<rect x="248.03" y="164.50" width="4.02" height="32.20" fill="#808080"/>
<rect x="252.00" y="164.50" width="1.04" height="32.20" fill="#8c8c8c"/>
<rect x="252.99" y="164.50" width="1.04" height="32.20" fill="#fafafa"/>
<rect x="253.99" y="164.50" width="1.79" height="32.20" fill="#1e1e1e"/>
<rect x="255.72" y="164.50" width="1.79" height="32.20" fill="#fafafa"/>
<rect x="257.46" y="164.50" width="1.54" height="32.20" fill="#5b5b5b"/>
<rect x="261.93" y="164.50" width="2.04" height="32.20" fill="#363636"/>
<rect x="263.91" y="164.50" width="1.54" height="32.20" fill="#4f4f4f"/>
<rect x="265.40" y="164.50" width="1.04" height="32.20" fill="#808080"/>
<rect x="266.39" y="164.50" width="2.53" height="32.20" fill="#fafafa"/>
<rect x="268.87" y="164.50" width="1.29" height="32.20" fill="#5b5b5b"/>
<rect x="270.11" y="164.50" width="0.79" height="32.20" fill="#fafafa"/>
<rect x="270.86" y="164.50" width="2.04" height="32.20" fill="#8c8c8c"/>
<rect x="274.83" y="164.50" width="2.04" height="32.20" fill="#1e1e1e"/>
<rect x="276.81" y="164.50" width="1.04" height="32.20" fill="#bdbdbd"/>
<rect x="277.81" y="164.50" width="1.29" height="32.20" fill="#000000"/>
<rect x="283.76" y="164.50" width="1.04" height="32.20" fill="#4f4f4f"/>
<rect x="284.75" y="164.50" width="1.29" height="32.20" fill="#ededed"/>
<rect x="286.00" y="164.50" width="1.02" height="32.20" fill="#676767"/>
<rect x="286.97" y="164.50" width="1.25" height="32.20" fill="#c9c9c9"/>
<rect x="288.18" y="164.50" width="1.66" height="32.20" fill="#737373"/>
<rect x="291.39" y="164.50" width="1.25" height="32.20" fill="#2a2a2a"/>
<rect x="292.59" y="164.50" width="1.25" height="32.20" fill="#c9c9c9"/>
<rect x="293.80" y="164.50" width="1.25" height="32.20" fill="#1e1e1e"/>
<rect x="295.00" y="164.50" width="1.66" height="32.20" fill="#e1e1e1"/>
<rect x="296.61" y="164.50" width="1.66" height="32.20" fill="#676767"/>
<rect x="298.21" y="164.50" width="1.25" height="32.20" fill="#fafafa"/>
<rect x="299.42" y="164.50" width="1.25" height="32.20" fill="#000000"/>
<rect x="300.62" y="164.50" width="1.25" height="32.20" fill="#c9c9c9"/>
<rect x="301.82" y="164.50" width="2.06" height="32.20" fill="#1e1e1e"/>
<rect x="303.83" y="164.50" width="1.25" height="32.20" fill="#ededed"/>
<rect x="305.04" y="164.50" width="1.25" height="32.20" fill="#434343"/>
<rect x="311.86" y="164.50" width="1.25" height="32.20" fill="#676767"/>
<rect x="313.07" y="164.50" width="2.46" height="32.20" fill="#000000"/>
<rect x="315.47" y="164.50" width="1.25" height="32.20" fill="#c9c9c9"/>
<rect x="316.68" y="164.50" width="1.66" height="32.20" fill="#5b5b5b"/>
<rect x="318.28" y="164.50" width="1.25" height="32.20" fill="#b0b0b0"/>
<rect x="319.49" y="164.50" width="2.06" height="32.20" fill="#676767"/>
<rect x="322.70" y="164.50" width="1.25" height="32.20" fill="#060606"/>
<rect x="325.51" y="164.50" width="1.25" height="32.20" fill="#c9c9c9"/>
<rect x="326.72" y="164.50" width="2.06" height="32.20" fill="#5b5b5b"/>
<rect x="330.33" y="164.50" width="1.25" height="32.20" fill="#808080"/>
<rect x="331.53" y="164.50" width="1.66" height="32.20" fill="#1e1e1e"/>
<rect x="333.14" y="164.50" width="1.25" height="32.20" fill="#b0b0b0"/>
<rect x="334.34" y="164.50" width="1.25" height="32.20" fill="#121212"/>
<rect x="338.36" y="164.50" width="1.66" height="32.20" fill="#060606"/>
<rect x="339.96" y="164.50" width="1.66" height="32.20" fill="#c9c9c9"/>
<rect x="341.57" y="164.50" width="1.66" height="32.20" fill="#2a2a2a"/>
<rect x="343.18" y="164.50" width="1.66" height="32.20" fill="#989898"/>
<rect x="344.78" y="164.50" width="1.66" height="32.20" fill="#1e1e1e"/>
<rect x="346.39" y="164.50" width="1.25" height="32.20" fill="#c9c9c9"/>
<rect x="347.59" y="164.50" width="1.25" height="32.20" fill="#1e1e1e"/>
<rect x="348.80" y="164.50" width="1.25" height="32.20" fill="#e1e1e1"/>
<rect x="350.00" y="164.50" width="1.66" height="32.20" fill="#434343"/>
<rect x="351.61" y="164.50" width="1.25" height="32.20" fill="#ededed"/>
<rect x="352.81" y="164.50" width="1.66" height="32.20" fill="#121212"/>
<rect x="354.42" y="164.50" width="1.66" height="32.20" fill="#8c8c8c"/>
<rect x="356.02" y="164.50" width="1.25" height="32.20" fill="#1e1e1e"/>
<rect x="357.23" y="164.50" width="1.66" height="32.20" fill="#c9c9c9"/>
<rect x="358.83" y="164.50" width="1.25" height="32.20" fill="#121212"/>
<rect x="360.04" y="164.50" width="1.25" height="32.20" fill="#ededed"/>
<rect x="361.24" y="164.50" width="2.06" height="32.20" fill="#363636"/>
<rect x="363.25" y="164.50" width="1.66" height="32.20" fill="#676767"/>
<rect x="364.85" y="164.50" width="2.06" height="32.20" fill="#a4a4a4"/>
<rect x="370.07" y="164.50" width="1.66" height="32.20" fill="#060606"/>
<rect x="371.68" y="164.50" width="2.46" height="32.20" fill="#808080"/>
<rect x="374.09" y="164.50" width="2.06" height="32.20" fill="#434343"/>
<rect x="379.71" y="164.50" width="1.66" height="32.20" fill="#989898"/>
<rect x="381.31" y="164.50" width="1.66" height="32.20" fill="#434343"/>
<rect x="382.92" y="164.50" width="1.66" height="32.20" fill="#989898"/>
<rect x="384.53" y="164.50" width="1.66" height="32.20" fill="#676767"/>
<rect x="386.13" y="164.50" width="2.06" height="32.20" fill="#c9c9c9"/>
<rect x="390.15" y="164.50" width="2.46" height="32.20" fill="#000000"/>
<rect x="392.55" y="164.50" width="1.25" height="32.20" fill="#5b5b5b"/>
<rect x="185.80" y="196.70" width="10.20" height="7.90" fill="#f05a66"/>
<rect x="196.00" y="196.70" width="3.00" height="7.90" fill="#ef6e82"/>
<rect x="199.00" y="196.70" width="6.40" height="7.90" fill="#f58282"/>
<rect x="205.40" y="196.70" width="70.10" height="7.90" fill="#f0b2d4"/>
<rect x="275.50" y="196.70" width="72.70" height="7.90" fill="#c9c9e9"/>
<rect x="348.20" y="196.70" width="14.80" height="7.90" fill="#b5b3df"/>
<rect x="363.00" y="196.70" width="8.80" height="7.90" fill="#7884c8"/>
<rect x="371.80" y="196.70" width="20.70" height="7.90" fill="#5058b2"/>
<rect x="392.50" y="196.70" width="1.80" height="7.90" fill="#3c3ca0"/>
<rect x="394.30" y="196.70" width="10.50" height="7.90" fill="#ffffff"/>
<line x1="185.80" y1="196.70" x2="404.80" y2="196.70" stroke="#c8c8c8" stroke-width="0.6" />
<line x1="185.80" y1="65.50" x2="185.80" y2="204.60" stroke="#8a8a8a" stroke-width="0.9" />
<polyline points="185.80,150.40 186.20,128.00 186.50,95.00 186.90,80.00 187.40,70.90 188.30,72.50 189.60,70.50 191.40,72.20 192.40,71.60 193.10,69.90 195.80,69.70 198.00,70.30 202.80,71.60 207.20,73.70 300.00,120.10 342.90,140.60 364.80,150.60 370.10,152.30 377.50,155.60 383.50,157.50 388.80,158.60 389.90,159.40 391.00,157.50 392.20,155.30 393.30,153.80 394.00,151.50 394.40,150.20" fill="none" stroke="#62b946" stroke-width="2.1" stroke-linejoin="round"/>
<text x="225.80" y="44.60" font-size="8.9" text-anchor="start" fill="#231f20" textLength="123.60" lengthAdjust="spacingAndGlyphs" >Hoxc8 binding enhanced genes</text>
<text x="286.40" y="86.00" font-size="8.4" text-anchor="start" fill="#231f20" textLength="69.80" lengthAdjust="spacingAndGlyphs" >NES = 1.4970924</text>
<text x="286.40" y="96.60" font-size="8.4" text-anchor="start" fill="#231f20" textLength="79.00" lengthAdjust="spacingAndGlyphs" >FDR = 0.049830124</text>
<text x="162.50" y="153.90" font-size="8.7" text-anchor="middle" fill="#231f20" textLength="89.00" lengthAdjust="spacingAndGlyphs" transform="rotate(-90 162.5 153.9)">Enrichment score (ES)</text>
<rect x="235.10" y="209.10" width="129.40" height="17.00" fill="#fff" stroke="#111" stroke-width="1.4" />
<line x1="238.20" y1="217.60" x2="248.80" y2="217.60" stroke="#62b946" stroke-width="1.4" />
<text x="251.90" y="220.90" font-size="8.8" text-anchor="start" fill="#231f20" textLength="71.10" lengthAdjust="spacingAndGlyphs" >Enrichment profile</text>
<line x1="332.20" y1="217.60" x2="343.00" y2="217.60" stroke="#111" stroke-width="1.4" />
<text x="345.90" y="220.90" font-size="8.8" text-anchor="start" fill="#231f20" textLength="14.30" lengthAdjust="spacingAndGlyphs" >Hits</text>
<text x="186.00" y="220.90" font-size="8.5" text-anchor="start" fill="#231f20" textLength="25.20" lengthAdjust="spacingAndGlyphs" >TGF-β</text>
<text x="385.30" y="220.90" font-size="8.5" text-anchor="start" fill="#231f20" textLength="13.30" lengthAdjust="spacingAndGlyphs" >Ctrl</text>
<line x1="454.20" y1="75.50" x2="673.60" y2="75.50" stroke="#cbcbcb" stroke-width="0.9" stroke-dasharray="2.6 2.4"/>
<line x1="454.20" y1="96.86" x2="673.60" y2="96.86" stroke="#cbcbcb" stroke-width="0.9" stroke-dasharray="2.6 2.4"/>
<line x1="454.20" y1="107.54" x2="673.60" y2="107.54" stroke="#cbcbcb" stroke-width="0.9" stroke-dasharray="2.6 2.4"/>
<line x1="454.20" y1="118.22" x2="673.60" y2="118.22" stroke="#cbcbcb" stroke-width="0.9" stroke-dasharray="2.6 2.4"/>
<line x1="454.20" y1="128.90" x2="673.60" y2="128.90" stroke="#cbcbcb" stroke-width="0.9" stroke-dasharray="2.6 2.4"/>
<line x1="454.20" y1="139.58" x2="673.60" y2="139.58" stroke="#cbcbcb" stroke-width="0.9" stroke-dasharray="2.6 2.4"/>
<line x1="454.20" y1="150.26" x2="673.60" y2="150.26" stroke="#cbcbcb" stroke-width="0.9" stroke-dasharray="2.6 2.4"/>
<line x1="454.20" y1="160.94" x2="673.60" y2="160.94" stroke="#cbcbcb" stroke-width="0.9" stroke-dasharray="2.6 2.4"/>
<line x1="506.60" y1="65.50" x2="506.60" y2="163.60" stroke="#cbcbcb" stroke-width="0.9" stroke-dasharray="2.6 2.4"/>
<line x1="559.00" y1="65.50" x2="559.00" y2="163.60" stroke="#cbcbcb" stroke-width="0.9" stroke-dasharray="2.6 2.4"/>
<line x1="611.40" y1="65.50" x2="611.40" y2="163.60" stroke="#cbcbcb" stroke-width="0.9" stroke-dasharray="2.6 2.4"/>
<line x1="663.80" y1="65.50" x2="663.80" y2="163.60" stroke="#cbcbcb" stroke-width="0.9" stroke-dasharray="2.6 2.4"/>
<line x1="454.20" y1="86.18" x2="673.60" y2="86.18" stroke="#6a6a6a" stroke-width="1.0" />
<rect x="454.20" y="65.50" width="219.40" height="139.10" fill="none" stroke="#9a9a9a" stroke-width="0.9" />
<line x1="454.20" y1="163.60" x2="673.60" y2="163.60" stroke="#b0b0b0" stroke-width="0.9" />
<text x="448.30" y="78.00" font-size="9.3" text-anchor="end" fill="#231f20" >0.1</text>
<text x="448.30" y="88.68" font-size="9.3" text-anchor="end" fill="#231f20" >0.0</text>
<text x="448.30" y="99.36" font-size="9.3" text-anchor="end" fill="#231f20" >-0.1</text>
<text x="448.30" y="110.04" font-size="9.3" text-anchor="end" fill="#231f20" >-0.2</text>
<text x="448.30" y="120.72" font-size="9.3" text-anchor="end" fill="#231f20" >-0.3</text>
<text x="448.30" y="131.40" font-size="9.3" text-anchor="end" fill="#231f20" >-0.4</text>
<text x="448.30" y="142.08" font-size="9.3" text-anchor="end" fill="#231f20" >-0.5</text>
<text x="448.30" y="152.76" font-size="9.3" text-anchor="end" fill="#231f20" >-0.6</text>
<text x="448.30" y="163.44" font-size="9.3" text-anchor="end" fill="#231f20" >-0.7</text>
<line x1="451.80" y1="75.50" x2="454.20" y2="75.50" stroke="#888" stroke-width="0.8" />
<line x1="451.80" y1="96.86" x2="454.20" y2="96.86" stroke="#888" stroke-width="0.8" />
<line x1="451.80" y1="107.54" x2="454.20" y2="107.54" stroke="#888" stroke-width="0.8" />
<line x1="451.80" y1="118.22" x2="454.20" y2="118.22" stroke="#888" stroke-width="0.8" />
<line x1="451.80" y1="128.90" x2="454.20" y2="128.90" stroke="#888" stroke-width="0.8" />
<line x1="451.80" y1="139.58" x2="454.20" y2="139.58" stroke="#888" stroke-width="0.8" />
<line x1="451.80" y1="150.26" x2="454.20" y2="150.26" stroke="#888" stroke-width="0.8" />
<line x1="451.80" y1="160.94" x2="454.20" y2="160.94" stroke="#888" stroke-width="0.8" />
<line x1="451.80" y1="86.18" x2="454.20" y2="86.18" stroke="#888" stroke-width="0.8" />
<rect x="454.20" y="164.50" width="3.26" height="32.20" fill="#000000"/>
<rect x="457.42" y="164.50" width="1.25" height="32.20" fill="#737373"/>
<rect x="458.62" y="164.50" width="1.25" height="32.20" fill="#060606"/>
<rect x="459.82" y="164.50" width="1.25" height="32.20" fill="#ededed"/>
<rect x="461.03" y="164.50" width="2.06" height="32.20" fill="#1e1e1e"/>
<rect x="463.04" y="164.50" width="1.25" height="32.20" fill="#5b5b5b"/>
<rect x="465.85" y="164.50" width="1.66" height="32.20" fill="#737373"/>
<rect x="467.45" y="164.50" width="1.25" height="32.20" fill="#ededed"/>
<rect x="468.66" y="164.50" width="1.66" height="32.20" fill="#121212"/>
<rect x="470.26" y="164.50" width="1.66" height="32.20" fill="#989898"/>
<rect x="471.87" y="164.50" width="2.86" height="32.20" fill="#000000"/>
<rect x="477.89" y="164.50" width="1.66" height="32.20" fill="#4f4f4f"/>
<rect x="479.50" y="164.50" width="1.25" height="32.20" fill="#1e1e1e"/>
<rect x="480.70" y="164.50" width="1.66" height="32.20" fill="#fafafa"/>
<rect x="482.31" y="164.50" width="1.25" height="32.20" fill="#676767"/>
<rect x="483.51" y="164.50" width="2.46" height="32.20" fill="#060606"/>
<rect x="485.92" y="164.50" width="1.66" height="32.20" fill="#363636"/>
<rect x="487.53" y="164.50" width="1.25" height="32.20" fill="#e1e1e1"/>
<rect x="488.73" y="164.50" width="2.06" height="32.20" fill="#5b5b5b"/>
<rect x="490.74" y="164.50" width="1.66" height="32.20" fill="#1e1e1e"/>
<rect x="492.34" y="164.50" width="1.25" height="32.20" fill="#fafafa"/>
<rect x="493.55" y="164.50" width="1.25" height="32.20" fill="#000000"/>
<rect x="494.75" y="164.50" width="1.66" height="32.20" fill="#c9c9c9"/>
<rect x="496.36" y="164.50" width="2.06" height="32.20" fill="#1e1e1e"/>
<rect x="501.18" y="164.50" width="1.66" height="32.20" fill="#434343"/>
<rect x="502.78" y="164.50" width="2.46" height="32.20" fill="#808080"/>
<rect x="506.39" y="164.50" width="1.66" height="32.20" fill="#c9c9c9"/>
<rect x="508.00" y="164.50" width="1.66" height="32.20" fill="#363636"/>
<rect x="511.61" y="164.50" width="2.06" height="32.20" fill="#121212"/>
<rect x="513.62" y="164.50" width="1.66" height="32.20" fill="#676767"/>
<rect x="515.23" y="164.50" width="1.25" height="32.20" fill="#060606"/>
<rect x="516.43" y="164.50" width="1.25" height="32.20" fill="#ededed"/>
<rect x="517.64" y="164.50" width="1.66" height="32.20" fill="#363636"/>
<rect x="519.24" y="164.50" width="1.25" height="32.20" fill="#ededed"/>
<rect x="520.45" y="164.50" width="1.66" height="32.20" fill="#2a2a2a"/>
<rect x="526.47" y="164.50" width="2.46" height="32.20" fill="#434343"/>
<rect x="528.88" y="164.50" width="2.46" height="32.20" fill="#000000"/>
<rect x="531.28" y="164.50" width="1.66" height="32.20" fill="#808080"/>
<rect x="532.89" y="164.50" width="1.25" height="32.20" fill="#e1e1e1"/>
<rect x="534.09" y="164.50" width="1.66" height="32.20" fill="#2a2a2a"/>
<rect x="535.70" y="164.50" width="1.25" height="32.20" fill="#a4a4a4"/>
<rect x="536.91" y="164.50" width="1.25" height="32.20" fill="#2a2a2a"/>
<rect x="538.11" y="164.50" width="1.66" height="32.20" fill="#c9c9c9"/>
<rect x="539.72" y="164.50" width="1.25" height="32.20" fill="#4f4f4f"/>
<rect x="540.92" y="164.50" width="2.46" height="32.20" fill="#000000"/>
<rect x="546.94" y="164.50" width="1.25" height="32.20" fill="#8c8c8c"/>
<rect x="548.15" y="164.50" width="1.66" height="32.20" fill="#c9c9c9"/>
<rect x="549.75" y="164.50" width="1.66" height="32.20" fill="#808080"/>
<rect x="552.96" y="164.50" width="1.66" height="32.20" fill="#676767"/>
<rect x="554.57" y="164.50" width="1.66" height="32.20" fill="#1e1e1e"/>
<rect x="558.58" y="164.50" width="0.85" height="32.20" fill="#737373"/>
<rect x="560.59" y="164.50" width="1.25" height="32.20" fill="#1e1e1e"/>
<rect x="561.80" y="164.50" width="1.25" height="32.20" fill="#ededed"/>
<rect x="563.00" y="164.50" width="1.25" height="32.20" fill="#fafafa"/>
<rect x="564.20" y="164.50" width="1.66" height="32.20" fill="#4f4f4f"/>
<rect x="565.81" y="164.50" width="2.06" height="32.20" fill="#676767"/>
<rect x="567.82" y="164.50" width="2.06" height="32.20" fill="#121212"/>
<rect x="573.44" y="164.50" width="1.66" height="32.20" fill="#363636"/>
<rect x="575.04" y="164.50" width="1.25" height="32.20" fill="#c9c9c9"/>
<rect x="576.25" y="164.50" width="1.25" height="32.20" fill="#5b5b5b"/>
<rect x="577.45" y="164.50" width="1.66" height="32.20" fill="#363636"/>
<rect x="579.06" y="164.50" width="1.25" height="32.20" fill="#ededed"/>
<rect x="580.26" y="164.50" width="1.25" height="32.20" fill="#808080"/>
<rect x="585.88" y="164.50" width="1.66" height="32.20" fill="#1e1e1e"/>
<rect x="587.49" y="164.50" width="1.25" height="32.20" fill="#000000"/>
<rect x="588.69" y="164.50" width="1.66" height="32.20" fill="#ededed"/>
<rect x="590.30" y="164.50" width="1.66" height="32.20" fill="#434343"/>
<rect x="591.91" y="164.50" width="1.66" height="32.20" fill="#060606"/>
<rect x="593.51" y="164.50" width="1.66" height="32.20" fill="#000000"/>
<rect x="595.12" y="164.50" width="1.66" height="32.20" fill="#000000"/>
<rect x="596.72" y="164.50" width="2.06" height="32.20" fill="#ededed"/>
<rect x="598.73" y="164.50" width="1.66" height="32.20" fill="#8c8c8c"/>
<rect x="600.34" y="164.50" width="1.25" height="32.20" fill="#5b5b5b"/>
<rect x="601.54" y="164.50" width="1.25" height="32.20" fill="#989898"/>
<rect x="603.95" y="164.50" width="1.66" height="32.20" fill="#363636"/>
<rect x="605.55" y="164.50" width="2.46" height="32.20" fill="#5b5b5b"/>
<rect x="607.96" y="164.50" width="1.66" height="32.20" fill="#b0b0b0"/>
<rect x="613.99" y="164.50" width="1.25" height="32.20" fill="#4f4f4f"/>
<rect x="615.19" y="164.50" width="2.86" height="32.20" fill="#a4a4a4"/>
<rect x="620.01" y="164.50" width="1.25" height="32.20" fill="#8c8c8c"/>
<rect x="623.62" y="164.50" width="2.46" height="32.20" fill="#121212"/>
<rect x="626.03" y="164.50" width="2.46" height="32.20" fill="#434343"/>
<rect x="628.44" y="164.50" width="2.86" height="32.20" fill="#000000"/>
<rect x="631.25" y="164.50" width="2.86" height="32.20" fill="#363636"/>
<rect x="634.06" y="164.50" width="3.26" height="32.20" fill="#1e1e1e"/>
<rect x="637.27" y="164.50" width="2.86" height="32.20" fill="#000000"/>
<rect x="640.08" y="164.50" width="1.66" height="32.20" fill="#5b5b5b"/>
<rect x="641.69" y="164.50" width="1.25" height="32.20" fill="#ededed"/>
<rect x="642.89" y="164.50" width="2.06" height="32.20" fill="#1e1e1e"/>
<rect x="644.90" y="164.50" width="2.06" height="32.20" fill="#808080"/>
<rect x="646.91" y="164.50" width="1.66" height="32.20" fill="#000000"/>
<rect x="653.73" y="164.50" width="1.25" height="32.20" fill="#4f4f4f"/>
<rect x="654.93" y="164.50" width="1.66" height="32.20" fill="#bdbdbd"/>
<rect x="656.54" y="164.50" width="1.25" height="32.20" fill="#2a2a2a"/>
<rect x="657.74" y="164.50" width="2.06" height="32.20" fill="#000000"/>
<rect x="659.75" y="164.50" width="1.25" height="32.20" fill="#676767"/>
<rect x="660.96" y="164.50" width="1.66" height="32.20" fill="#060606"/>
<rect x="454.20" y="196.70" width="27.80" height="7.90" fill="#f05a66"/>
<rect x="482.00" y="196.70" width="8.00" height="7.90" fill="#ef6e82"/>
<rect x="490.00" y="196.70" width="14.70" height="7.90" fill="#f58282"/>
<rect x="504.70" y="196.70" width="82.20" height="7.90" fill="#f0b2d4"/>
<rect x="586.90" y="196.70" width="57.80" height="7.90" fill="#c9c9e9"/>
<rect x="644.70" y="196.70" width="5.30" height="7.90" fill="#b9b7e1"/>
<rect x="650.00" y="196.70" width="2.60" height="7.90" fill="#7080c8"/>
<rect x="652.60" y="196.70" width="8.80" height="7.90" fill="#5058b2"/>
<rect x="661.40" y="196.70" width="1.00" height="7.90" fill="#3c3ca0"/>
<rect x="662.40" y="196.70" width="11.20" height="7.90" fill="#ffffff"/>
<line x1="454.20" y1="196.70" x2="673.60" y2="196.70" stroke="#c8c8c8" stroke-width="0.6" />
<line x1="454.20" y1="65.50" x2="454.20" y2="204.60" stroke="#8a8a8a" stroke-width="0.9" />
<polyline points="454.20,86.20 455.20,80.00 456.10,75.30 457.70,71.70 459.70,69.80 464.30,69.80 468.40,71.00 473.50,72.20 476.60,73.40 483.70,75.80 506.30,86.20 611.40,138.30 630.00,147.60 645.00,154.50 655.60,158.90 658.30,158.90 659.60,153.70 661.50,151.70 662.20,148.00 662.40,120.00 662.60,86.20" fill="none" stroke="#62b946" stroke-width="2.1" stroke-linejoin="round"/>
<text x="493.20" y="44.60" font-size="8.9" text-anchor="start" fill="#231f20" textLength="123.60" lengthAdjust="spacingAndGlyphs" >Hoxc8 binding enhanced genes</text>
<text x="466.60" y="138.90" font-size="8.4" text-anchor="start" fill="#231f20" textLength="73.40" lengthAdjust="spacingAndGlyphs" >NES = -1.2946588</text>
<text x="466.60" y="149.20" font-size="8.4" text-anchor="start" fill="#231f20" textLength="75.20" lengthAdjust="spacingAndGlyphs" >FDR = 0.09533469</text>
<text x="428.20" y="157.00" font-size="8.7" text-anchor="middle" fill="#231f20" textLength="89.00" lengthAdjust="spacingAndGlyphs" transform="rotate(-90 428.2 157.0)">Enrichment score (ES)</text>
<rect x="496.40" y="208.90" width="128.20" height="17.30" fill="#fff" stroke="#111" stroke-width="1.4" />
<line x1="499.50" y1="217.55" x2="510.10" y2="217.55" stroke="#62b946" stroke-width="1.4" />
<text x="513.20" y="220.85" font-size="8.8" text-anchor="start" fill="#231f20" textLength="71.10" lengthAdjust="spacingAndGlyphs" >Enrichment profile</text>
<line x1="593.50" y1="217.55" x2="604.30" y2="217.55" stroke="#111" stroke-width="1.4" />
<text x="607.20" y="220.85" font-size="8.8" text-anchor="start" fill="#231f20" textLength="14.30" lengthAdjust="spacingAndGlyphs" >Hits</text>
<text x="438.00" y="221.00" font-size="8.5" text-anchor="start" fill="#231f20" textLength="25.20" lengthAdjust="spacingAndGlyphs" >TGF-β</text>
<text x="633.30" y="221.00" font-size="8.5" text-anchor="start" fill="#231f20" textLength="52.00" lengthAdjust="spacingAndGlyphs" >TGF-β+MetR</text>
<line x1="53.60" y1="322.50" x2="272.60" y2="322.50" stroke="#cbcbcb" stroke-width="0.9" stroke-dasharray="2.6 2.4"/>
<line x1="53.60" y1="343.60" x2="272.60" y2="343.60" stroke="#cbcbcb" stroke-width="0.9" stroke-dasharray="2.6 2.4"/>
<line x1="53.60" y1="354.15" x2="272.60" y2="354.15" stroke="#cbcbcb" stroke-width="0.9" stroke-dasharray="2.6 2.4"/>
<line x1="53.60" y1="364.70" x2="272.60" y2="364.70" stroke="#cbcbcb" stroke-width="0.9" stroke-dasharray="2.6 2.4"/>
<line x1="53.60" y1="375.25" x2="272.60" y2="375.25" stroke="#cbcbcb" stroke-width="0.9" stroke-dasharray="2.6 2.4"/>
<line x1="53.60" y1="385.80" x2="272.60" y2="385.80" stroke="#cbcbcb" stroke-width="0.9" stroke-dasharray="2.6 2.4"/>
<line x1="53.60" y1="396.35" x2="272.60" y2="396.35" stroke="#cbcbcb" stroke-width="0.9" stroke-dasharray="2.6 2.4"/>
<line x1="53.60" y1="406.90" x2="272.60" y2="406.90" stroke="#cbcbcb" stroke-width="0.9" stroke-dasharray="2.6 2.4"/>
<line x1="106.00" y1="319.50" x2="106.00" y2="417.60" stroke="#cbcbcb" stroke-width="0.9" stroke-dasharray="2.6 2.4"/>
<line x1="158.40" y1="319.50" x2="158.40" y2="417.60" stroke="#cbcbcb" stroke-width="0.9" stroke-dasharray="2.6 2.4"/>
<line x1="210.80" y1="319.50" x2="210.80" y2="417.60" stroke="#cbcbcb" stroke-width="0.9" stroke-dasharray="2.6 2.4"/>
<line x1="263.20" y1="319.50" x2="263.20" y2="417.60" stroke="#cbcbcb" stroke-width="0.9" stroke-dasharray="2.6 2.4"/>
<line x1="53.60" y1="333.30" x2="272.60" y2="333.30" stroke="#6a6a6a" stroke-width="1.0" />
<rect x="53.60" y="319.50" width="219.00" height="139.10" fill="none" stroke="#9a9a9a" stroke-width="0.9" />
<line x1="53.60" y1="417.60" x2="272.60" y2="417.60" stroke="#b0b0b0" stroke-width="0.9" />
<text x="47.70" y="325.90" font-size="9.3" text-anchor="end" fill="#231f20" >0.0</text>
<text x="47.70" y="337.70" font-size="9.3" text-anchor="end" fill="#231f20" >-0.1</text>
<text x="47.70" y="349.50" font-size="9.3" text-anchor="end" fill="#231f20" >-0.2</text>
<text x="47.70" y="361.30" font-size="9.3" text-anchor="end" fill="#231f20" >-0.3</text>
<text x="47.70" y="373.10" font-size="9.3" text-anchor="end" fill="#231f20" >-0.4</text>
<text x="47.70" y="384.90" font-size="9.3" text-anchor="end" fill="#231f20" >-0.5</text>
<text x="47.70" y="396.70" font-size="9.3" text-anchor="end" fill="#231f20" >-0.6</text>
<text x="47.70" y="408.50" font-size="9.3" text-anchor="end" fill="#231f20" >-0.7</text>
<text x="47.70" y="420.30" font-size="9.3" text-anchor="end" fill="#231f20" >-0.8</text>
<line x1="51.20" y1="322.50" x2="53.60" y2="322.50" stroke="#888" stroke-width="0.8" />
<line x1="51.20" y1="343.60" x2="53.60" y2="343.60" stroke="#888" stroke-width="0.8" />
<line x1="51.20" y1="354.15" x2="53.60" y2="354.15" stroke="#888" stroke-width="0.8" />
<line x1="51.20" y1="364.70" x2="53.60" y2="364.70" stroke="#888" stroke-width="0.8" />
<line x1="51.20" y1="375.25" x2="53.60" y2="375.25" stroke="#888" stroke-width="0.8" />
<line x1="51.20" y1="385.80" x2="53.60" y2="385.80" stroke="#888" stroke-width="0.8" />
<line x1="51.20" y1="396.35" x2="53.60" y2="396.35" stroke="#888" stroke-width="0.8" />
<line x1="51.20" y1="406.90" x2="53.60" y2="406.90" stroke="#888" stroke-width="0.8" />
<line x1="51.20" y1="333.30" x2="53.60" y2="333.30" stroke="#888" stroke-width="0.8" />
<rect x="53.56" y="418.50" width="1.09" height="32.20" fill="#808080"/>
<rect x="54.61" y="418.50" width="1.66" height="32.20" fill="#1e1e1e"/>
<rect x="56.21" y="418.50" width="1.66" height="32.20" fill="#737373"/>
<rect x="57.82" y="418.50" width="3.26" height="32.20" fill="#000000"/>
<rect x="61.03" y="418.50" width="1.25" height="32.20" fill="#fafafa"/>
<rect x="62.23" y="418.50" width="0.85" height="32.20" fill="#363636"/>
<rect x="63.04" y="418.50" width="0.85" height="32.20" fill="#ededed"/>
<rect x="63.84" y="418.50" width="0.85" height="32.20" fill="#060606"/>
<rect x="64.64" y="418.50" width="3.26" height="32.20" fill="#000000"/>
<rect x="67.85" y="418.50" width="1.25" height="32.20" fill="#989898"/>
<rect x="69.06" y="418.50" width="1.25" height="32.20" fill="#b0b0b0"/>
<rect x="70.26" y="418.50" width="1.25" height="32.20" fill="#fafafa"/>
<rect x="71.47" y="418.50" width="2.46" height="32.20" fill="#060606"/>
<rect x="73.88" y="418.50" width="1.25" height="32.20" fill="#fafafa"/>
<rect x="75.08" y="418.50" width="2.06" height="32.20" fill="#808080"/>
<rect x="77.09" y="418.50" width="7.68" height="32.20" fill="#000000"/>
<rect x="84.72" y="418.50" width="0.85" height="32.20" fill="#4f4f4f"/>
<rect x="85.52" y="418.50" width="1.25" height="32.20" fill="#fafafa"/>
<rect x="86.72" y="418.50" width="1.66" height="32.20" fill="#000000"/>
<rect x="88.33" y="418.50" width="1.66" height="32.20" fill="#c9c9c9"/>
<rect x="89.93" y="418.50" width="2.06" height="32.20" fill="#676767"/>
<rect x="91.94" y="418.50" width="1.25" height="32.20" fill="#1e1e1e"/>
<rect x="93.15" y="418.50" width="2.06" height="32.20" fill="#808080"/>
<rect x="95.15" y="418.50" width="1.66" height="32.20" fill="#060606"/>
<rect x="96.76" y="418.50" width="1.25" height="32.20" fill="#fafafa"/>
<rect x="97.96" y="418.50" width="1.25" height="32.20" fill="#1e1e1e"/>
<rect x="99.17" y="418.50" width="2.06" height="32.20" fill="#363636"/>
<rect x="101.18" y="418.50" width="3.26" height="32.20" fill="#2a2a2a"/>
<rect x="106.80" y="418.50" width="1.25" height="32.20" fill="#c9c9c9"/>
<rect x="108.00" y="418.50" width="1.25" height="32.20" fill="#1e1e1e"/>
<rect x="109.20" y="418.50" width="1.25" height="32.20" fill="#737373"/>
<rect x="112.01" y="418.50" width="2.06" height="32.20" fill="#2a2a2a"/>
<rect x="114.02" y="418.50" width="1.25" height="32.20" fill="#8c8c8c"/>
<rect x="115.23" y="418.50" width="1.25" height="32.20" fill="#363636"/>
<rect x="119.64" y="418.50" width="1.25" height="32.20" fill="#363636"/>
<rect x="124.46" y="418.50" width="1.66" height="32.20" fill="#000000"/>
<rect x="126.07" y="418.50" width="3.26" height="32.20" fill="#989898"/>
<rect x="130.48" y="418.50" width="1.25" height="32.20" fill="#2a2a2a"/>
<rect x="134.90" y="418.50" width="1.25" height="32.20" fill="#363636"/>
<rect x="136.10" y="418.50" width="1.25" height="32.20" fill="#ededed"/>
<rect x="137.31" y="418.50" width="1.25" height="32.20" fill="#676767"/>
<rect x="138.51" y="418.50" width="2.46" height="32.20" fill="#a4a4a4"/>
<rect x="140.92" y="418.50" width="2.46" height="32.20" fill="#363636"/>
<rect x="145.74" y="418.50" width="2.06" height="32.20" fill="#000000"/>
<rect x="147.74" y="418.50" width="1.66" height="32.20" fill="#ededed"/>
<rect x="149.35" y="418.50" width="0.85" height="32.20" fill="#676767"/>
<rect x="150.15" y="418.50" width="1.66" height="32.20" fill="#1e1e1e"/>
<rect x="151.76" y="418.50" width="1.66" height="32.20" fill="#989898"/>
<rect x="153.37" y="418.50" width="1.25" height="32.20" fill="#ededed"/>
<rect x="158.58" y="418.50" width="1.25" height="32.20" fill="#363636"/>
<rect x="163.00" y="418.50" width="1.25" height="32.20" fill="#737373"/>
<rect x="167.01" y="418.50" width="1.25" height="32.20" fill="#434343"/>
<rect x="168.22" y="418.50" width="1.25" height="32.20" fill="#c9c9c9"/>
<rect x="169.42" y="418.50" width="3.26" height="32.20" fill="#2a2a2a"/>
<rect x="172.64" y="418.50" width="1.25" height="32.20" fill="#c9c9c9"/>
<rect x="173.84" y="418.50" width="1.66" height="32.20" fill="#434343"/>
<rect x="179.86" y="418.50" width="1.25" height="32.20" fill="#a4a4a4"/>
<rect x="181.07" y="418.50" width="2.46" height="32.20" fill="#fafafa"/>
<rect x="183.47" y="418.50" width="1.25" height="32.20" fill="#000000"/>
<rect x="184.68" y="418.50" width="1.66" height="32.20" fill="#e1e1e1"/>
<rect x="186.28" y="418.50" width="3.26" height="32.20" fill="#363636"/>
<rect x="189.50" y="418.50" width="1.25" height="32.20" fill="#c9c9c9"/>
<rect x="190.70" y="418.50" width="2.46" height="32.20" fill="#000000"/>
<rect x="193.11" y="418.50" width="0.85" height="32.20" fill="#c9c9c9"/>
<rect x="193.91" y="418.50" width="3.66" height="32.20" fill="#737373"/>
<rect x="201.94" y="418.50" width="1.25" height="32.20" fill="#1e1e1e"/>
<rect x="203.15" y="418.50" width="2.06" height="32.20" fill="#c9c9c9"/>
<rect x="205.15" y="418.50" width="2.46" height="32.20" fill="#000000"/>
<rect x="207.56" y="418.50" width="1.66" height="32.20" fill="#434343"/>
<rect x="209.17" y="418.50" width="2.06" height="32.20" fill="#e1e1e1"/>
<rect x="211.18" y="418.50" width="3.26" height="32.20" fill="#8c8c8c"/>
<rect x="214.39" y="418.50" width="1.66" height="32.20" fill="#363636"/>
<rect x="218.00" y="418.50" width="1.25" height="32.20" fill="#1e1e1e"/>
<rect x="222.82" y="418.50" width="2.06" height="32.20" fill="#1e1e1e"/>
<rect x="224.82" y="418.50" width="1.25" height="32.20" fill="#676767"/>
<rect x="226.03" y="418.50" width="1.66" height="32.20" fill="#1e1e1e"/>
<rect x="230.85" y="418.50" width="1.66" height="32.20" fill="#1e1e1e"/>
<rect x="232.45" y="418.50" width="1.66" height="32.20" fill="#000000"/>
<rect x="234.06" y="418.50" width="1.25" height="32.20" fill="#676767"/>
<rect x="235.26" y="418.50" width="1.66" height="32.20" fill="#363636"/>
<rect x="236.87" y="418.50" width="1.66" height="32.20" fill="#989898"/>
<rect x="238.47" y="418.50" width="1.25" height="32.20" fill="#ededed"/>
<rect x="239.68" y="418.50" width="1.66" height="32.20" fill="#121212"/>
<rect x="241.28" y="418.50" width="1.25" height="32.20" fill="#676767"/>
<rect x="242.49" y="418.50" width="1.25" height="32.20" fill="#363636"/>
<rect x="243.69" y="418.50" width="2.06" height="32.20" fill="#8c8c8c"/>
<rect x="245.70" y="418.50" width="2.86" height="32.20" fill="#000000"/>
<rect x="248.51" y="418.50" width="1.25" height="32.20" fill="#676767"/>
<rect x="250.92" y="418.50" width="1.66" height="32.20" fill="#737373"/>
<rect x="252.53" y="418.50" width="1.66" height="32.20" fill="#000000"/>
<rect x="258.55" y="418.50" width="4.06" height="32.20" fill="#121212"/>
<rect x="53.60" y="450.70" width="22.00" height="7.90" fill="#f05a66"/>
<rect x="75.60" y="450.70" width="7.80" height="7.90" fill="#ef6e82"/>
<rect x="83.40" y="450.70" width="13.20" height="7.90" fill="#f58282"/>
<rect x="96.60" y="450.70" width="87.40" height="7.90" fill="#f0b2d4"/>
<rect x="184.00" y="450.70" width="59.00" height="7.90" fill="#c9c9e9"/>
<rect x="243.00" y="450.70" width="4.90" height="7.90" fill="#b5b3df"/>
<rect x="247.90" y="450.70" width="12.10" height="7.90" fill="#5462b6"/>
<rect x="260.00" y="450.70" width="1.40" height="7.90" fill="#3c3ca0"/>
<rect x="261.40" y="450.70" width="11.20" height="7.90" fill="#ffffff"/>
<line x1="53.60" y1="450.70" x2="272.60" y2="450.70" stroke="#c8c8c8" stroke-width="0.6" />
<line x1="53.60" y1="319.50" x2="53.60" y2="458.60" stroke="#8a8a8a" stroke-width="0.9" />
<polyline points="53.60,333.40 54.60,329.30 55.60,327.30 57.70,327.10 60.20,323.70 62.00,324.60 64.30,325.20 67.90,324.50 72.50,326.00 77.60,327.80 83.70,328.80 86.80,330.10 92.90,333.40 117.40,344.60 211.20,392.00 230.00,401.30 246.40,408.70 253.70,411.00 258.90,413.30 260.60,411.90 260.90,408.70 261.90,404.70 262.20,396.80 262.40,370.00 262.50,333.30" fill="none" stroke="#62b946" stroke-width="2.1" stroke-linejoin="round"/>
<text x="97.60" y="305.70" font-size="8.9" text-anchor="start" fill="#231f20" textLength="123.60" lengthAdjust="spacingAndGlyphs" >Hoxc8 binding enhanced genes</text>
<text x="63.60" y="388.90" font-size="8.4" text-anchor="start" fill="#231f20" textLength="72.00" lengthAdjust="spacingAndGlyphs" >NES = -1.4975871</text>
<text x="63.60" y="399.10" font-size="8.4" text-anchor="start" fill="#231f20" textLength="79.60" lengthAdjust="spacingAndGlyphs" >FDR = 0.059392266</text>
<text x="27.50" y="405.70" font-size="8.7" text-anchor="middle" fill="#231f20" textLength="89.00" lengthAdjust="spacingAndGlyphs" transform="rotate(-90 27.5 405.7)">Enrichment score (ES)</text>
<rect x="91.10" y="463.40" width="128.80" height="17.00" fill="#fff" stroke="#111" stroke-width="1.4" />
<line x1="94.20" y1="471.90" x2="104.80" y2="471.90" stroke="#62b946" stroke-width="1.4" />
<text x="107.90" y="475.20" font-size="8.8" text-anchor="start" fill="#231f20" textLength="71.10" lengthAdjust="spacingAndGlyphs" >Enrichment profile</text>
<line x1="188.20" y1="471.90" x2="199.00" y2="471.90" stroke="#111" stroke-width="1.4" />
<text x="201.90" y="475.20" font-size="8.8" text-anchor="start" fill="#231f20" textLength="14.30" lengthAdjust="spacingAndGlyphs" >Hits</text>
<text x="36.00" y="475.10" font-size="8.5" text-anchor="start" fill="#231f20" textLength="25.20" lengthAdjust="spacingAndGlyphs" >TGF-β</text>
<text x="228.80" y="475.20" font-size="8.5" text-anchor="start" fill="#231f20" textLength="62.40" lengthAdjust="spacingAndGlyphs" >TGF-β+siHoxc8</text>
<text x="386.90" y="286.70" font-size="8.6" text-anchor="start" fill="#231f20" >Hoxc8 ChIP</text>
<text x="369.60" y="308.40" font-size="8.6" text-anchor="end" fill="#231f20" >Ctrl</text>
<text x="369.60" y="334.60" font-size="8.6" text-anchor="end" fill="#231f20" >TGF-β</text>
<rect x="386.40" y="292.00" width="260.30" height="51.30" fill="#f3f6f6" stroke="#1a1a1a" stroke-width="1.3" />
<line x1="387.00" y1="316.40" x2="646.00" y2="316.40" stroke="#4a58a8" stroke-width="0.9" />
<polygon points="453.9,316.9 453.9,315.6 464.9,315.6 464.9,316.9" fill="#2b3990"/>
<polygon points="549,316.9 550.5,315.2 553,314.8 555,314.2 557.5,313.4 560,313.8 562,314.4 564,314.6 566,316 567.5,316.9" fill="#2b3990"/>
<line x1="387.00" y1="342.10" x2="646.00" y2="342.10" stroke="#2b3990" stroke-width="1.0" />
<polygon points="438.1,342.4 441.2,336.3 443.8,333.2 446.9,328.8 450.4,325.3 453.9,322.3 456.1,321.8 459.2,326.2 462.7,331.5 464.9,337.2 465.7,342.4" fill="#2b3990"/>
<rect x="387" y="341.2" width="7" height="1.2" fill="#2b3990"/>
<rect x="631" y="340.9" width="15" height="1.5" fill="#2b3990"/>
<rect x="386.40" y="347.50" width="260.30" height="15.00" fill="#fff" stroke="#1a1a1a" stroke-width="1.3" />
<rect x="438.10" y="351.20" width="26.90" height="8.40" fill="#2b3990" stroke="none" stroke-width="1" />
<line x1="465.00" y1="355.40" x2="546.80" y2="355.40" stroke="#2b3990" stroke-width="1.0" />
<line x1="470.60" y1="353.60" x2="470.60" y2="357.20" stroke="#2b3990" stroke-width="0.9" />
<line x1="483.70" y1="353.60" x2="483.70" y2="357.20" stroke="#2b3990" stroke-width="0.9" />
<line x1="496.60" y1="353.60" x2="496.60" y2="357.20" stroke="#2b3990" stroke-width="0.9" />
<line x1="509.40" y1="353.60" x2="509.40" y2="357.20" stroke="#2b3990" stroke-width="0.9" />
<line x1="522.70" y1="353.60" x2="522.70" y2="357.20" stroke="#2b3990" stroke-width="0.9" />
<line x1="535.80" y1="353.60" x2="535.80" y2="357.20" stroke="#2b3990" stroke-width="0.9" />
<rect x="546.80" y="351.20" width="18.20" height="8.40" fill="#2b3990" stroke="none" stroke-width="1" />
<rect x="565.00" y="353.20" width="30.60" height="4.50" fill="#2b3990" stroke="none" stroke-width="1" />
<polyline points="450.1,354.2 451.3,355.4 450.1,356.6" fill="none" stroke="#dfe3f2" stroke-width="0.6"/>
<polyline points="462.90000000000003,354.2 464.1,355.4 462.90000000000003,356.6" fill="none" stroke="#dfe3f2" stroke-width="0.6"/>
<polyline points="555.0999999999999,354.2 556.3,355.4 555.0999999999999,356.6" fill="none" stroke="#dfe3f2" stroke-width="0.6"/>
<rect x="444.10" y="349.40" width="3.70" height="12.30" fill="none" stroke="#e8323c" stroke-width="0.9" rx="0.8"/>
<rect x="454.30" y="349.40" width="4.00" height="12.30" fill="none" stroke="#e8323c" stroke-width="0.9" rx="0.8"/>
<text x="517.00" y="376.50" font-size="8.6" text-anchor="start" fill="#231f20" >Hoxc8</text>
<line x1="444.80" y1="362.50" x2="407.70" y2="394.20" stroke="#6456bc" stroke-width="0.9" stroke-dasharray="3.2 2.0"/>
<line x1="447.40" y1="362.50" x2="465.50" y2="394.20" stroke="#6456bc" stroke-width="0.9" stroke-dasharray="3.2 2.0"/>
<line x1="456.00" y1="362.50" x2="499.10" y2="394.20" stroke="#6456bc" stroke-width="0.9" stroke-dasharray="3.2 2.0"/>
<line x1="458.00" y1="362.50" x2="556.90" y2="394.20" stroke="#6456bc" stroke-width="0.9" stroke-dasharray="3.2 2.0"/>
<text x="406.80" y="403.40" font-size="9.4" text-anchor="start" fill="#231f20" textLength="9.00" lengthAdjust="spacingAndGlyphs" >53</text>
<text x="455.80" y="403.40" font-size="9.4" text-anchor="start" fill="#231f20" textLength="9.00" lengthAdjust="spacingAndGlyphs" >85</text>
<text x="498.00" y="403.40" font-size="9.4" text-anchor="start" fill="#231f20" textLength="14.00" lengthAdjust="spacingAndGlyphs" >286</text>
<text x="540.80" y="403.40" font-size="9.4" text-anchor="start" fill="#231f20" textLength="14.00" lengthAdjust="spacingAndGlyphs" >313</text>
<rect x="405.00" y="405.00" width="63.20" height="14.80" fill="#bdb6de" stroke="none" stroke-width="1" rx="2.6"/>
<text x="436.30" y="415.60" font-size="9.6" text-anchor="middle" fill="#231f20" textLength="60.3" lengthAdjust="spacingAndGlyphs"><tspan fill="#231f20">...CT</tspan><tspan fill="#e8202a">ATTA</tspan><tspan fill="#231f20">CG...</tspan></text>
<rect x="496.00" y="404.70" width="62.80" height="14.90" fill="#9a88c4" stroke="none" stroke-width="1" rx="2.6"/>
<text x="527.10" y="415.40" font-size="9.6" text-anchor="middle" fill="#231f20" textLength="60.3" lengthAdjust="spacingAndGlyphs"><tspan fill="#231f20">...CT</tspan><tspan fill="#e8202a">TTAT</tspan><tspan fill="#231f20">GG...</tspan></text>
<line x1="405.60" y1="419.80" x2="424.80" y2="427.80" stroke="#6456bc" stroke-width="0.9" stroke-dasharray="3.2 2.0"/>
<line x1="467.60" y1="419.80" x2="449.80" y2="427.80" stroke="#6456bc" stroke-width="0.9" stroke-dasharray="3.2 2.0"/>
<line x1="496.60" y1="419.60" x2="514.80" y2="427.80" stroke="#6456bc" stroke-width="0.9" stroke-dasharray="3.2 2.0"/>
<line x1="558.20" y1="419.60" x2="541.00" y2="427.80" stroke="#6456bc" stroke-width="0.9" stroke-dasharray="3.2 2.0"/>
<line x1="400.40" y1="439.70" x2="422.60" y2="439.70" stroke="#222" stroke-width="1.2" />
<line x1="387.30" y1="447.40" x2="393.90" y2="432.40" stroke="#222" stroke-width="1.25" stroke-linecap="round"/>
<line x1="396.40" y1="447.40" x2="403.00" y2="432.40" stroke="#222" stroke-width="1.25" stroke-linecap="round"/>
<line x1="542.50" y1="439.70" x2="558.20" y2="439.70" stroke="#222" stroke-width="1.2" />
<line x1="614.50" y1="439.70" x2="633.50" y2="439.70" stroke="#222" stroke-width="1.2" />
<line x1="630.90" y1="447.40" x2="637.10" y2="432.40" stroke="#222" stroke-width="1.25" stroke-linecap="round"/>
<line x1="640.10" y1="447.40" x2="646.30" y2="432.40" stroke="#222" stroke-width="1.25" stroke-linecap="round"/>
<rect x="421.60" y="428.80" width="29.60" height="21.80" fill="#c0b8e0" stroke="none" stroke-width="1" rx="5.8"/>
<rect x="451.80" y="428.80" width="30.20" height="21.80" fill="#9482bc" stroke="none" stroke-width="1" rx="5.8"/>
<rect x="483.20" y="428.80" width="29.20" height="21.80" fill="#c0b8e0" stroke="none" stroke-width="1" rx="5.8"/>
<rect x="513.00" y="428.80" width="29.60" height="21.80" fill="#9482bc" stroke="none" stroke-width="1" rx="5.8"/>
<rect x="558.00" y="428.80" width="56.60" height="21.80" fill="#f2dfc8" stroke="none" stroke-width="1" />
<text x="558.90" y="442.90" font-size="8.6" text-anchor="start" fill="#231f20" textLength="37.80" lengthAdjust="spacingAndGlyphs" >luciferase</text>
<text x="421.80" y="463.40" font-size="8.7" text-anchor="start" fill="#231f20" textLength="13.60" lengthAdjust="spacingAndGlyphs" >WT</text>
<rect x="404.70" y="475.00" width="62.40" height="14.40" fill="#dec4e2" stroke="none" stroke-width="1" rx="2.6"/>
<text x="435.60" y="485.20" font-size="9.6" text-anchor="middle" fill="#231f20" textLength="60.3" lengthAdjust="spacingAndGlyphs"><tspan fill="#231f20">...CT</tspan><tspan fill="#e8202a">ACAT</tspan><tspan fill="#231f20">CG...</tspan></text>
<rect x="496.20" y="475.00" width="62.40" height="14.40" fill="#a883b8" stroke="none" stroke-width="1" rx="2.6"/>
<text x="527.10" y="485.20" font-size="9.6" text-anchor="middle" fill="#231f20" textLength="60.3" lengthAdjust="spacingAndGlyphs"><tspan fill="#231f20">...CT</tspan><tspan fill="#e8202a">TCTC</tspan><tspan fill="#231f20">GG...</tspan></text>
<line x1="405.30" y1="489.40" x2="420.80" y2="497.70" stroke="#8a3aa0" stroke-width="0.9" stroke-dasharray="3.2 2.0"/>
<line x1="466.50" y1="489.40" x2="450.40" y2="497.70" stroke="#8a3aa0" stroke-width="0.9" stroke-dasharray="3.2 2.0"/>
<line x1="496.80" y1="489.40" x2="512.00" y2="497.70" stroke="#8a3aa0" stroke-width="0.9" stroke-dasharray="3.2 2.0"/>
<line x1="558.00" y1="489.40" x2="542.00" y2="497.70" stroke="#8a3aa0" stroke-width="0.9" stroke-dasharray="3.2 2.0"/>
<line x1="399.30" y1="509.15" x2="421.60" y2="509.15" stroke="#222" stroke-width="1.2" />
<line x1="386.20" y1="516.85" x2="392.80" y2="501.85" stroke="#222" stroke-width="1.25" stroke-linecap="round"/>
<line x1="395.30" y1="516.85" x2="401.90" y2="501.85" stroke="#222" stroke-width="1.25" stroke-linecap="round"/>
<line x1="542.50" y1="509.15" x2="558.20" y2="509.15" stroke="#222" stroke-width="1.2" />
<line x1="614.50" y1="509.15" x2="633.50" y2="509.15" stroke="#222" stroke-width="1.2" />
<line x1="630.90" y1="516.85" x2="637.10" y2="501.85" stroke="#222" stroke-width="1.25" stroke-linecap="round"/>
<line x1="640.10" y1="516.85" x2="646.30" y2="501.85" stroke="#222" stroke-width="1.25" stroke-linecap="round"/>
<rect x="420.60" y="498.00" width="29.80" height="22.30" fill="#dcc2e0" stroke="none" stroke-width="1" rx="5.8"/>
<rect x="450.40" y="498.00" width="31.40" height="22.30" fill="#aa7fb4" stroke="none" stroke-width="1" rx="5.8"/>
<rect x="482.30" y="498.00" width="29.20" height="22.30" fill="#dcc2e0" stroke="none" stroke-width="1" rx="5.8"/>
<rect x="512.00" y="498.00" width="30.00" height="22.30" fill="#aa7fb4" stroke="none" stroke-width="1" rx="5.8"/>
<rect x="558.00" y="498.00" width="56.60" height="22.30" fill="#f2dfc8" stroke="none" stroke-width="1" />
<text x="558.90" y="512.35" font-size="8.6" text-anchor="start" fill="#231f20" textLength="37.80" lengthAdjust="spacingAndGlyphs" >luciferase</text>
<text x="421.90" y="533.80" font-size="8.8" text-anchor="start" fill="#231f20" textLength="26.30" lengthAdjust="spacingAndGlyphs" >Mutant</text>
<text x="350.20" y="464.00" font-size="8.9" text-anchor="middle" fill="#231f20" textLength="56.40" lengthAdjust="spacingAndGlyphs" transform="rotate(-90 350.2 464.0)">Hoxc8 binding</text>
<text x="360.00" y="464.00" font-size="8.9" text-anchor="middle" fill="#231f20" textLength="32.40" lengthAdjust="spacingAndGlyphs" transform="rotate(-90 360.0 464.0)">site (4x)</text>
<text x="67.90" y="588.90" font-size="8.9" text-anchor="start" fill="#231f20" textLength="65.40" lengthAdjust="spacingAndGlyphs" >Hoxc8-luciferase</text>
<line x1="60.70" y1="606.20" x2="60.70" y2="759.20" stroke="#111" stroke-width="1.3" />
<line x1="60.00" y1="758.60" x2="163.30" y2="758.60" stroke="#111" stroke-width="1.3" />
<line x1="54.00" y1="758.40" x2="60.70" y2="758.40" stroke="#111" stroke-width="1.3" />
<text x="45.20" y="761.60" font-size="8.7" text-anchor="end" fill="#231f20" >0</text>
<line x1="54.00" y1="720.50" x2="60.70" y2="720.50" stroke="#111" stroke-width="1.3" />
<text x="45.20" y="723.70" font-size="8.7" text-anchor="end" fill="#231f20" >1</text>
<line x1="54.00" y1="682.60" x2="60.70" y2="682.60" stroke="#111" stroke-width="1.3" />
<text x="45.20" y="685.80" font-size="8.7" text-anchor="end" fill="#231f20" >2</text>
<line x1="54.00" y1="644.70" x2="60.70" y2="644.70" stroke="#111" stroke-width="1.3" />
<text x="45.20" y="647.90" font-size="8.7" text-anchor="end" fill="#231f20" >3</text>
<line x1="54.00" y1="606.80" x2="60.70" y2="606.80" stroke="#111" stroke-width="1.3" />
<text x="45.20" y="610.00" font-size="8.7" text-anchor="end" fill="#231f20" >4</text>
<line x1="81.00" y1="758.60" x2="81.00" y2="765.40" stroke="#111" stroke-width="1.3" />
<line x1="111.60" y1="758.60" x2="111.60" y2="765.40" stroke="#111" stroke-width="1.3" />
<line x1="142.00" y1="758.60" x2="142.00" y2="765.40" stroke="#111" stroke-width="1.3" />
<text x="30.20" y="680.90" font-size="9.2" text-anchor="middle" fill="#231f20" textLength="100.10" lengthAdjust="spacingAndGlyphs" transform="rotate(-90 30.2 680.9)">Relative luciferase activity</text>
<rect x="72.60" y="733.10" width="17.70" height="25.50" fill="#b2c6e4" stroke="#3a62a0" stroke-width="2.6" />
<rect x="102.40" y="649.10" width="18.40" height="109.50" fill="#c0b8df" stroke="#5a3d9a" stroke-width="2.6" />
<rect x="133.50" y="733.10" width="17.60" height="25.50" fill="#e2c4e2" stroke="#9030a0" stroke-width="2.6" />
<circle cx="81.1" cy="729.0" r="2.0" fill="#a2b8e0"/><circle cx="89.7" cy="729.7" r="2.0" fill="#a2b8e0"/><circle cx="72.4" cy="731.4" r="2.0" fill="#a2b8e0"/>
<line x1="75.90" y1="730.40" x2="86.60" y2="730.40" stroke="#2f5c9c" stroke-width="1.2" />
<line x1="81.20" y1="730.40" x2="81.20" y2="733.00" stroke="#2f5c9c" stroke-width="1.0" />
<line x1="111.50" y1="636.90" x2="111.50" y2="659.00" stroke="#6a4fae" stroke-width="1.2" />
<line x1="106.30" y1="636.90" x2="117.00" y2="636.90" stroke="#6a4fae" stroke-width="1.2" />
<line x1="106.30" y1="659.00" x2="117.00" y2="659.00" stroke="#6a4fae" stroke-width="1.2" />
<rect x="109.10" y="632.30" width="4.60" height="4.60" fill="#a698d0" stroke="none" stroke-width="1" />
<rect x="104.70" y="651.70" width="5.00" height="5.00" fill="#a698d0" stroke="none" stroke-width="1" />
<rect x="113.90" y="651.70" width="5.00" height="5.00" fill="#a698d0" stroke="none" stroke-width="1" />
<line x1="142.50" y1="727.10" x2="142.50" y2="736.30" stroke="#9030a0" stroke-width="1.1" />
<line x1="137.00" y1="727.10" x2="147.70" y2="727.10" stroke="#9030a0" stroke-width="1.1" />
<line x1="137.00" y1="736.30" x2="147.70" y2="736.30" stroke="#9030a0" stroke-width="1.1" />
<polygon points="138.5,733 140.5,729.3 142.5,733" fill="#d0a0d8"/><polygon points="142.8,733 144.8,729.3 146.8,733" fill="#d0a0d8"/><polygon points="140.8,739.5 142.8,735.8 144.8,739.5" fill="#d0a0d8"/>
<text x="94.60" y="610.60" font-size="8.4" text-anchor="middle" fill="#231f20" >***</text>
<line x1="79.70" y1="611.70" x2="112.10" y2="611.70" stroke="#111" stroke-width="1.2" />
<text x="108.90" y="625.10" font-size="8.7" text-anchor="middle" fill="#231f20" >ns</text>
<line x1="83.80" y1="627.20" x2="138.40" y2="627.20" stroke="#111" stroke-width="1.2" />
<text x="19.80" y="777.60" font-size="8.7" text-anchor="start" fill="#231f20" >Hoxc8</text>
<text x="80.60" y="778.40" font-size="9.0" text-anchor="middle" fill="#231f20" >-</text>
<text x="111.50" y="778.40" font-size="9.0" text-anchor="middle" fill="#231f20" >+</text>
<text x="141.80" y="778.40" font-size="9.0" text-anchor="middle" fill="#231f20" >+</text>
<line x1="81.50" y1="782.10" x2="112.00" y2="782.10" stroke="#111" stroke-width="1.2" />
<text x="94.80" y="797.00" font-size="8.7" text-anchor="middle" fill="#231f20" >WT</text>
<text x="137.30" y="797.00" font-size="8.7" text-anchor="middle" fill="#231f20" >Mutant</text>
<text x="315.00" y="588.50" font-size="8.7" text-anchor="start" fill="#231f20" font-style="italic">Hoxc8 (Rat)</text>
<line x1="295.30" y1="606.30" x2="295.30" y2="759.60" stroke="#111" stroke-width="1.3" />
<line x1="288.30" y1="759.00" x2="397.10" y2="759.00" stroke="#111" stroke-width="1.3" />
<line x1="288.30" y1="759.00" x2="295.30" y2="759.00" stroke="#111" stroke-width="1.3" />
<text x="279.40" y="762.20" font-size="8.7" text-anchor="end" fill="#231f20" >0</text>
<line x1="288.30" y1="721.00" x2="295.30" y2="721.00" stroke="#111" stroke-width="1.3" />
<text x="279.40" y="724.20" font-size="8.7" text-anchor="end" fill="#231f20" >1</text>
<line x1="288.30" y1="683.00" x2="295.30" y2="683.00" stroke="#111" stroke-width="1.3" />
<text x="279.40" y="686.20" font-size="8.7" text-anchor="end" fill="#231f20" >2</text>
<line x1="288.30" y1="645.00" x2="295.30" y2="645.00" stroke="#111" stroke-width="1.3" />
<text x="279.40" y="648.20" font-size="8.7" text-anchor="end" fill="#231f20" >3</text>
<line x1="288.30" y1="607.00" x2="295.30" y2="607.00" stroke="#111" stroke-width="1.3" />
<text x="279.40" y="610.20" font-size="8.7" text-anchor="end" fill="#231f20" >4</text>
<line x1="324.00" y1="759.00" x2="324.00" y2="765.50" stroke="#111" stroke-width="1.3" />
<line x1="367.60" y1="759.00" x2="367.60" y2="765.50" stroke="#111" stroke-width="1.3" />
<text x="264.90" y="682.40" font-size="9.2" text-anchor="middle" fill="#231f20" textLength="105.20" lengthAdjust="spacingAndGlyphs" transform="rotate(-90 264.9 682.4)">Relative mRNA expression</text>
<rect x="311.00" y="722.10" width="26.30" height="36.90" fill="#b2c6e4" stroke="#2f5c9c" stroke-width="2.8" />
<rect x="355.00" y="652.30" width="25.40" height="106.70" fill="#c0b8df" stroke="#5a3d9a" stroke-width="2.8" />
<line x1="324.00" y1="715.20" x2="324.00" y2="726.10" stroke="#3a62a0" stroke-width="1.1" />
<line x1="316.30" y1="715.20" x2="331.70" y2="715.20" stroke="#3a62a0" stroke-width="1.1" />
<line x1="316.30" y1="726.10" x2="331.70" y2="726.10" stroke="#3a62a0" stroke-width="1.1" />
<circle cx="319.6" cy="715.2" r="2.3" fill="#7f9fd4"/><circle cx="328.8" cy="719.6" r="2.3" fill="#7f9fd4"/><circle cx="324.4" cy="726.1" r="2.3" fill="#7f9fd4"/>
<line x1="367.60" y1="639.90" x2="367.60" y2="661.60" stroke="#6a4fae" stroke-width="1.2" />
<line x1="360.10" y1="639.90" x2="374.80" y2="639.90" stroke="#6a4fae" stroke-width="1.2" />
<line x1="360.10" y1="661.60" x2="374.80" y2="661.60" stroke="#6a4fae" stroke-width="1.2" />
<rect x="365.05" y="637.05" width="4.70" height="4.70" fill="#9a8ac8" stroke="none" stroke-width="1" />
<rect x="365.05" y="650.55" width="4.70" height="4.70" fill="#9a8ac8" stroke="none" stroke-width="1" />
<rect x="365.05" y="657.85" width="4.70" height="4.70" fill="#9a8ac8" stroke="none" stroke-width="1" />
<text x="336.20" y="627.00" font-size="9.0" text-anchor="middle" fill="#231f20" >***</text>
<line x1="313.50" y1="627.90" x2="367.10" y2="627.90" stroke="#222" stroke-width="1.4" />
<text x="314.80" y="777.70" font-size="8.7" text-anchor="middle" fill="#231f20" >Empty</text>
<text x="367.60" y="779.20" font-size="8.7" text-anchor="middle" fill="#231f20" >TY1-HOXC8</text>
<defs><filter id="blur1" x="-30%" y="-80%" width="160%" height="260%"><feGaussianBlur stdDeviation="1.2"/></filter><filter id="blur2" x="-30%" y="-80%" width="160%" height="260%"><feGaussianBlur stdDeviation="0.85"/></filter><filter id="blur3" x="-30%" y="-80%" width="160%" height="260%"><feGaussianBlur stdDeviation="2.2"/></filter><filter id="mott" x="0" y="0" width="100%" height="100%"><feTurbulence type="fractalNoise" baseFrequency="0.18" numOctaves="2" seed="9" result="t"/><feColorMatrix in="t" type="matrix" values="0 0 0 0 0.5  0 0 0 0 0.5  0 0 0 0 0.5  0 0 0 -1.6 0.95" result="c"/><feComposite in="c" in2="SourceGraphic" operator="in"/></filter><clipPath id="cb1"><rect x="518.3" y="648.3" width="76.2" height="41.9"/></clipPath><clipPath id="cb2"><rect x="518.3" y="702.4" width="76.2" height="31.8"/></clipPath></defs>
<rect x="518.30" y="648.30" width="76.20" height="41.90" fill="#eeeeee" stroke="none" stroke-width="1" />
<g clip-path="url(#cb1)">
<rect x="518.3" y="648.3" width="76.2" height="41.9" fill="#fff" filter="url(#mott)" opacity="0.25"/>
<ellipse cx="576" cy="678" rx="17" ry="11" fill="#d6d6d6" filter="url(#blur3)" opacity="0.7"/>
<rect x="529" y="677.6" width="22" height="6.0" rx="3" fill="#cdcdcd" filter="url(#blur1)"/>
<rect x="560.6" y="654.9" width="26.5" height="8.8" rx="4.4" fill="#0c0c0c" filter="url(#blur2)"/>
<rect x="564.1" y="677.2" width="22.8" height="7.0" rx="3.0" fill="#262626" filter="url(#blur2)"/><ellipse cx="571.5" cy="680.8" rx="2.2" ry="1.6" fill="#6a6a6a" filter="url(#blur2)"/>
</g>
<rect x="518.30" y="648.30" width="76.20" height="41.90" fill="none" stroke="#444" stroke-width="1.1" />
<rect x="518.30" y="702.40" width="76.20" height="31.80" fill="#f3f3f3" stroke="none" stroke-width="1" />
<g clip-path="url(#cb2)">
<path d="M527.8,712.8 Q531,715.2 540,716.0 Q548,716.6 553.5,716.8 L553.5,721.2 Q547,721.3 540,720.5 Q531.5,719.3 527.8,716.2 Z" fill="#111" filter="url(#blur2)"/>
<path d="M559.2,716.2 Q563,716.0 572,716.6 L587.0,717.0 L587.0,720.8 L572,720.8 Q563,721.1 559.2,720.9 Z" fill="#111" filter="url(#blur2)"/>
</g>
<rect x="518.30" y="702.40" width="76.20" height="31.80" fill="none" stroke="#444" stroke-width="1.1" />
<text x="491.50" y="650.50" font-size="6.8" text-anchor="start" fill="#231f20" textLength="19.50" lengthAdjust="spacingAndGlyphs" >43 kD</text>
<text x="491.50" y="689.70" font-size="6.8" text-anchor="start" fill="#231f20" textLength="19.50" lengthAdjust="spacingAndGlyphs" >34 kD</text>
<text x="491.50" y="734.50" font-size="6.8" text-anchor="start" fill="#231f20" textLength="19.50" lengthAdjust="spacingAndGlyphs" >34 kD</text>
<text x="605.20" y="662.00" font-size="8.8" text-anchor="start" fill="#231f20" textLength="49.60" lengthAdjust="spacingAndGlyphs" >TY1-HOXC8</text>
<text x="605.00" y="681.60" font-size="8.8" text-anchor="start" fill="#231f20" textLength="76.90" lengthAdjust="spacingAndGlyphs" >Endogenous Hoxc8</text>
<text x="605.00" y="720.50" font-size="8.8" text-anchor="start" fill="#231f20" textLength="26.00" lengthAdjust="spacingAndGlyphs" >Gapdh</text>
<text x="535.30" y="638.70" font-size="8.65" text-anchor="start" fill="#231f20" transform="rotate(-36 535.3 638.7)">Empty</text>
<text x="570.80" y="639.10" font-size="8.65" text-anchor="start" fill="#231f20" transform="rotate(-36 570.8 639.1)">TY1-HOXC8</text>
</svg>
</body></html>
